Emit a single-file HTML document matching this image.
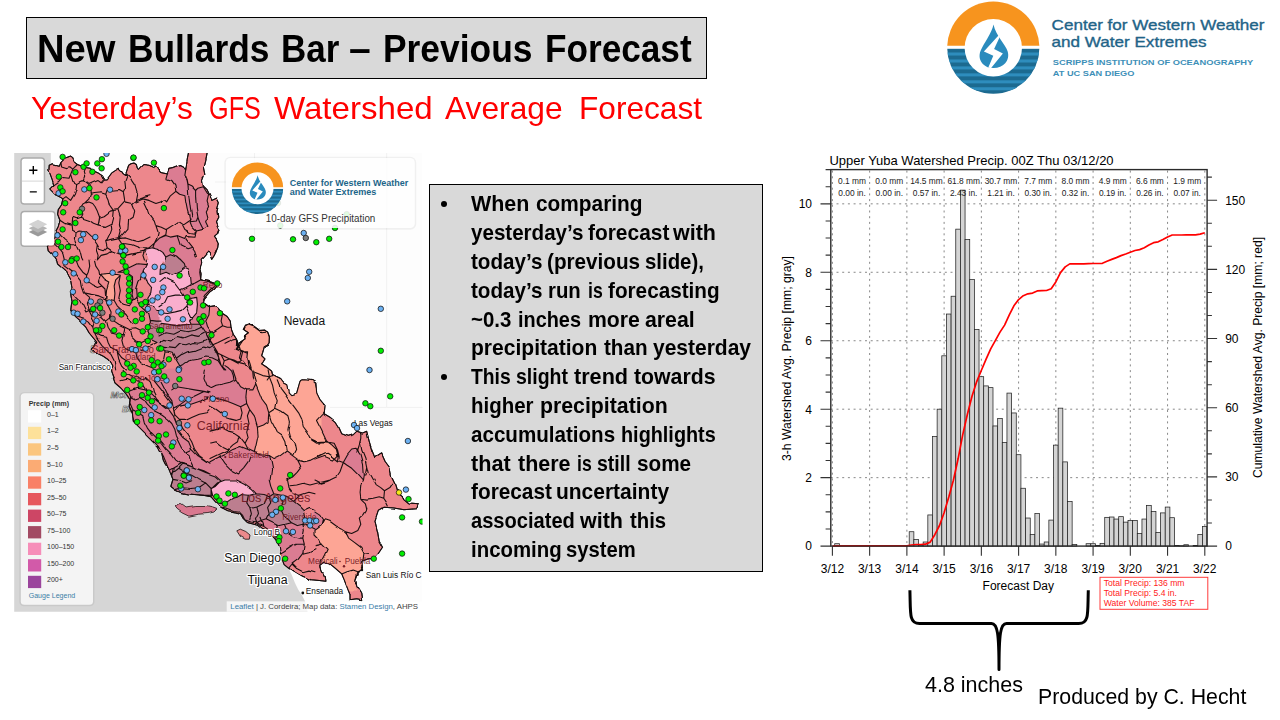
<!DOCTYPE html>
<html lang="en">
<head>
<meta charset="utf-8">
<title>New Bullards Bar – Previous Forecast</title>
<style>
html,body{margin:0;padding:0;background:#fff;}
body{width:1280px;height:720px;position:relative;overflow:hidden;font-family:"Liberation Sans", Arial, sans-serif;}
.t{position:absolute;white-space:nowrap;line-height:1;transform-origin:0 0;margin:0;padding:0;}
.w span{position:absolute;top:0;transform-origin:0 0;}
.box{position:absolute;background:#d9d9d9;border:1.3px solid #000;box-sizing:content-box;}
.bul{position:absolute;width:6px;height:6px;border-radius:50%;background:#000;}
svg{position:absolute;left:0;top:0;overflow:visible;}
svg text{font-family:"Liberation Sans", Arial, sans-serif;}
</style>
</head>
<body>
<svg width="0" height="0" style="position:absolute">
<defs>
<clipPath id="cwTop"><rect x="946.1999999999999" y="0.6000000000000014" width="94.2" height="45.20"/></clipPath>
<clipPath id="cwBot"><rect x="946.1999999999999" y="48.6" width="94.2" height="46.20"/></clipPath>
<clipPath id="cwDisc"><circle cx="993.3" cy="47.7" r="46.1"/></clipPath>
<g id="cw3e">
<circle cx="993.3" cy="47.7" r="46.1" fill="#f7941e" clip-path="url(#cwTop)"/>
<g clip-path="url(#cwBot)"><g clip-path="url(#cwDisc)"><rect x="946.1999999999999" y="48.6" width="94.2" height="48.1" fill="#1c6a90"/><rect x="946.1999999999999" y="52.50" width="94.2" height="3.05" fill="#2e8dbd"/><rect x="946.1999999999999" y="59.45" width="94.2" height="3.05" fill="#2e8dbd"/><rect x="946.1999999999999" y="66.40" width="94.2" height="3.05" fill="#2e8dbd"/><rect x="946.1999999999999" y="73.35" width="94.2" height="3.05" fill="#2e8dbd"/><rect x="946.1999999999999" y="80.30" width="94.2" height="3.05" fill="#2e8dbd"/><rect x="946.1999999999999" y="87.25" width="94.2" height="3.05" fill="#2e8dbd"/><rect x="946.1999999999999" y="94.20" width="94.2" height="3.05" fill="#2e8dbd"/></g></g>
<circle cx="993.3" cy="47.7" r="28.7" fill="#fff"/>
<path d="M993.5 24.6 C992.6 29 990.5 33 987.5 38.2 C985 42.5 982.3 46.6 980.6 50.8 C978.6 55.8 979.6 60.6 982.8 63.9 C985.6 66.8 989.2 68 993.6 68 C998.4 68 1002.4 66.4 1005.2 63.2 C1008 60 1009 55.6 1007.6 51.2 C1006.4 47.6 1003.6 43.8 1000.6 39.4 C997.6 35 994.8 30.4 993.5 24.6 Z" fill="#2a8bbd"/>
<path d="M998.7 35.2 L983.9 51.6 L993.3 55.7 L988.3 67.4 L990.9 68.2 L1002.9 53.4 L994.1 49.1 L999.5 37.4 Z" fill="#fff"/>
</g>
</defs></svg>
<div class="box" style="left:25.65px;top:17.35px;width:678.9px;height:60px;"></div>
<div class="t w h1" style="left:0;top:30.33px;font-size:38px;color:#000;font-weight:bold;"><span style="left:37.20px;transform:scaleX(1.0038)">New</span> <span style="left:128.00px;transform:scaleX(0.9300)">Bullards</span> <span style="left:281.10px;transform:scaleX(0.9203)">Bar</span> <span style="left:348.70px;transform:scaleX(1.0271)">–</span> <span style="left:382.80px;transform:scaleX(0.9308)">Previous</span> <span style="left:544.70px;transform:scaleX(0.9256)">Forecast</span></div>
<div class="t w h2" style="left:0;top:93.42px;font-size:31.4px;color:#ff0000;"><span style="left:30.90px;transform:scaleX(1.0080)">Yesterday’s</span> <span style="left:208.70px;transform:scaleX(0.8039)">GFS</span> <span style="left:273.80px;transform:scaleX(1.0534)">Watershed</span> <span style="left:445.30px;transform:scaleX(1.0103)">Average</span> <span style="left:578.80px;transform:scaleX(1.0070)">Forecast</span></div>
<div class="box" style="left:429.35px;top:184.35px;width:331.5px;height:385.5px;"></div>
<div class="t w li" style="left:0;top:193.45px;font-size:21.2px;color:#000;font-weight:bold;"><span style="left:470.80px;transform:scaleX(1.0120)">When</span> <span style="left:535.60px;transform:scaleX(0.9836)">comparing</span></div>
<div class="t w li" style="left:0;top:222.25px;font-size:21.2px;color:#000;font-weight:bold;"><span style="left:470.80px;transform:scaleX(0.9707)">yesterday’s</span> <span style="left:587.50px;transform:scaleX(0.9868)">forecast</span> <span style="left:673.16px;transform:scaleX(1.0126)">with</span></div>
<div class="t w li" style="left:0;top:251.05px;font-size:21.2px;color:#000;font-weight:bold;"><span style="left:470.80px;transform:scaleX(0.9723)">today’s</span> <span style="left:547.20px;transform:scaleX(0.9757)">(previous</span> <span style="left:645.30px;transform:scaleX(0.9614)">slide),</span></div>
<div class="t w li" style="left:0;top:279.85px;font-size:21.2px;color:#000;font-weight:bold;"><span style="left:470.80px;transform:scaleX(0.9723)">today’s</span> <span style="left:547.80px;transform:scaleX(0.9604)">run</span> <span style="left:587.50px;transform:scaleX(0.8314)">is</span> <span style="left:608.30px;transform:scaleX(0.9775)">forecasting</span></div>
<div class="t w li" style="left:0;top:308.65px;font-size:21.2px;color:#000;font-weight:bold;"><span style="left:470.80px;transform:scaleX(0.9630)">~0.3</span> <span style="left:518.10px;transform:scaleX(0.9380)">inches</span> <span style="left:587.50px;transform:scaleX(1.0013)">more</span> <span style="left:645.30px;transform:scaleX(1.0040)">areal</span></div>
<div class="t w li" style="left:0;top:337.45px;font-size:21.2px;color:#000;font-weight:bold;"><span style="left:470.80px;transform:scaleX(0.9935)">precipitation</span> <span style="left:603.60px;transform:scaleX(0.9742)">than</span> <span style="left:653.30px;transform:scaleX(0.9909)">yesterday</span></div>
<div class="t w li" style="left:0;top:366.25px;font-size:21.2px;color:#000;font-weight:bold;"><span style="left:470.90px;transform:scaleX(0.9108)">This</span> <span style="left:516.10px;transform:scaleX(0.9197)">slight</span> <span style="left:574.20px;transform:scaleX(1.0208)">trend</span> <span style="left:634.40px;transform:scaleX(1.0039)">towards</span></div>
<div class="t w li" style="left:0;top:395.05px;font-size:21.2px;color:#000;font-weight:bold;"><span style="left:470.90px;transform:scaleX(0.9662)">higher</span> <span style="left:539.60px;transform:scaleX(1.0045)">precipitation</span></div>
<div class="t w li" style="left:0;top:423.85px;font-size:21.2px;color:#000;font-weight:bold;"><span style="left:470.90px;transform:scaleX(0.9714)">accumulations</span> <span style="left:620.60px;transform:scaleX(0.9361)">highlights</span></div>
<div class="t w li" style="left:0;top:452.65px;font-size:21.2px;color:#000;font-weight:bold;"><span style="left:470.90px;transform:scaleX(1.0216)">that</span> <span style="left:517.60px;transform:scaleX(1.0148)">there</span> <span style="left:576.90px;transform:scaleX(0.8314)">is</span> <span style="left:596.80px;transform:scaleX(0.9199)">still</span> <span style="left:637.40px;transform:scaleX(0.9770)">some</span></div>
<div class="t w li" style="left:0;top:481.45px;font-size:21.2px;color:#000;font-weight:bold;"><span style="left:470.90px;transform:scaleX(0.9819)">forecast</span> <span style="left:556.40px;transform:scaleX(0.9898)">uncertainty</span></div>
<div class="t w li" style="left:0;top:510.25px;font-size:21.2px;color:#000;font-weight:bold;"><span style="left:470.90px;transform:scaleX(0.9481)">associated</span> <span style="left:580.06px;transform:scaleX(1.0150)">with</span> <span style="left:630.40px;transform:scaleX(0.9577)">this</span></div>
<div class="t w li" style="left:0;top:539.05px;font-size:21.2px;color:#000;font-weight:bold;"><span style="left:470.90px;transform:scaleX(0.9627)">incoming</span> <span style="left:566.20px;transform:scaleX(0.9538)">system</span></div>
<div class="bul" style="left:441px;top:200.7px;"></div>
<div class="bul" style="left:441px;top:373.5px;"></div>
<div class="t cap" style="left:924.70px;top:674.32px;font-size:21.6px;color:#000;transform:scaleX(0.9953);">4.8 inches</div>
<div class="t cap" style="left:1037.90px;top:685.92px;font-size:21.6px;color:#000;transform:scaleX(0.9862);">Produced by C. Hecht</div>
<svg id="logo" width="1280" height="720" viewBox="0 0 1280 720">
<use href="#cw3e"/>
<g fill="#1f6488" stroke="#1f6488" stroke-width="0.35" font-size="15">
<text x="1051.6" y="29.8" textLength="212.8" lengthAdjust="spacingAndGlyphs">Center for Western Weather</text>
<text x="1051.6" y="46.6" textLength="155" lengthAdjust="spacingAndGlyphs">and Water Extremes</text>
</g>
<g fill="#3d8fb8" font-size="8" font-weight="bold">
<text x="1052.8" y="64.6" textLength="200.5" lengthAdjust="spacingAndGlyphs">SCRIPPS INSTITUTION OF OCEANOGRAPHY</text>
<text x="1052.8" y="75.9" textLength="81.6" lengthAdjust="spacingAndGlyphs">AT UC SAN DIEGO</text>
</g>
</svg>
<svg id="map" width="1280" height="720" viewBox="0 0 1280 720">
<defs><clipPath id="mapclip"><rect x="14.2" y="153.0" width="408.3" height="458.7"/></clipPath></defs>
<g clip-path="url(#mapclip)">
<rect x="14.2" y="153.0" width="408.3" height="458.7" fill="#fdfdfd"/>
<path d="M14 153 50.8 153 50.8 163 48.9 169.9 49.9 174.4 52.2 180.6 53.8 185.9 50.7 189 54.5 192.8 57.6 195.8 60.6 197.4 62.9 198.9 61.4 205 58.3 209.6 57.6 214.2 59.9 220.3 58.3 226.4 56 231 54.5 235.6 52.2 241.7 48.4 246.3 49.2 250.8 53.8 255.4 56.8 260 57.5 263 65 269.7 67.5 275.5 70.8 281.3 72 288 70.8 294.7 72 301.3 70.8 310.5 74.2 316.3 80 321.3 85.8 327.2 89.2 333 93.3 338 96.7 342.2 95 346.3 91.7 349.7 96.7 353 103.3 356.3 108.3 359.7 111.7 365.5 111.7 371.3 114.2 378 113.3 378 115 383 120.8 388 126.7 394.7 130 399.7 129.2 406.3 132.5 413.8 133.3 421.3 138.3 426.3 143.3 431.3 148.3 436.3 153.3 441.3 158.3 446.3 161.7 453 163.2 460 165.3 464.2 168.8 469 170.8 473.9 172.9 479.4 170.8 486.4 175 489.9 180.6 492.6 187.5 494 195.8 494.7 204.2 495.4 211.1 496.8 215.3 501.7 220.8 507.2 227.8 510.7 234.7 512.1 240.3 513.5 243.1 518.3 247.2 522.5 252.8 523.9 257.6 525.3 261.1 528.1 266.7 530.8 272.2 535.7 276.4 540.6 279.2 546.1 280.6 554.4 281.7 558 284.2 564.7 288.3 568 291.7 574.7 295 583 298.3 589.7 301.7 594.7 305 601.3 308.3 614.7 14 615Z" fill="#d6d6d6"/>
<path d="M254.5 153V330M386.7 153V407.4M386.7 407.4H423M215 182H254.5M254.5 182 H386.7M330 407.4H386.7" stroke="#f1f1f1" stroke-width="1" fill="none"/>
<g font-size="9.5" font-style="italic" font-weight="bold" fill="#fff" stroke="#555" stroke-width="0.6"><text x="110.5" y="397.5">Monterey</text><text x="122" y="411.5">Bay</text><text x="90" y="352.5" font-size="11">San Francisco</text></g>
<filter id="wig" filterUnits="userSpaceOnUse" x="10" y="150" width="416" height="466"><feTurbulence type="fractalNoise" baseFrequency="0.07" numOctaves="1" seed="7" result="n"/><feDisplacementMap in="SourceGraphic" in2="n" scale="4" xChannelSelector="R" yChannelSelector="G"/></filter>
<g filter="url(#wig)">
<path d="M49.2 165.3 52.2 163.8 58.3 165.3 59.9 161.5 62.9 158.4 66.7 157.6 70.6 156.1 72.8 157.6 74.4 162.2 77.4 164.5 81.3 166 85.8 167.6 90.4 168.3 92.7 170.6 98.1 172.9 102.6 176 104.2 179 107.2 179 109.5 176 111.8 172.9 116.4 169.9 119.4 168.3 121.7 170.6 123.3 172.9 125.6 174.4 127.1 169.9 128.6 165.3 130.9 163.8 134 163 136.3 164.5 137.8 169.9 142.9 164.5 149 165.3 154.4 167.6 156.7 166 160.5 171.4 167.4 172.9 168.9 168.3 172.7 167.6 180.4 164.5 183.4 166 185.7 169.9 187.2 159.2 188.4 153.1 188.4 146.9 206.3 146.9 206.3 153.1 204.8 160.7 203.3 166.8 204.8 174.4 202.5 180.6 203.3 185.9 207.1 189.7 210.1 195.8 211.7 200.4 217 198.1 219.3 202.7 217 211.1 217.8 217.2 215.5 221.8 217.8 227.9 218.9 229.4 217.2 233.9 214.4 236.1 216.7 239.4 218.3 242.8 217.8 247.2 215.6 252.8 213.9 256.1 211.7 259.4 210 255 208.3 251.7 206.1 253.9 203.3 257.2 201.1 259.4 201.7 263.9 200 269.4 201.1 273.9 200.6 279.4 203.3 280.6 207.8 281.1 213.3 282.8 217.8 285 214.4 289.4 211.1 291.7 207.2 296.1 204.4 299.4 203.3 302.8 205.8 304.3 210.4 307.4 215.8 306.6 218.8 308.9 222.6 313.5 227.2 316.5 230.3 321.1 231 327.2 233.3 333.3 236.4 337.9 238.7 344 238.2 345.6 236.1 338.3 237 339.1 236.4 344.4 237.4 345 239.4 342.8 245 338.9 244.4 335.6 248.3 332.8 243.3 329.4 245.6 325 249.4 323.9 253.9 326.1 258.3 329.4 263.9 329.1 267.8 332.2 269.4 336.7 269.2 342.8 267.2 345.6 264.4 346.7 262.8 352.2 261.7 355.6 265 358.9 263.3 361.7 261.7 363.9 266.1 366.7 271.7 371.1 272.8 375.6 277.2 377.8 280.6 379.4 283.3 383 286.7 384.7 288.3 392.2 290.8 394.7 296.7 393 300 381.3 303.3 379.7 311.7 380.5 315.8 383 316.7 393 320 399.7 325 405.5 324.2 413.8 330 417.2 335 421.3 339.2 428 341.7 433.8 348.3 436.3 353.3 434.7 356.7 431.3 362.5 433 366.7 431.3 369.2 441.3 371.7 449.7 375 458 381.7 453.8 385 461.3 390 468 391.7 476.3 395.8 484.7 398.3 493 400 494.7 405 498.8 410 503 418.3 503.8 416.7 508.8 405 509.7 395 508 385 507.2 378.3 511.3 375 521.3 377.5 531.3 379.2 541.3 382.5 547.2 377.5 554.7 373.3 558.8 368.3 558.8 361.7 561.3 362.5 568 358.3 573 355.8 579.7 356.7 586.3 360.8 593 361.7 599.7 356.7 598.8 350 599.7 350 594.7 346.7 586.3 344.2 579.7 341.7 573.8 335 568 330 563.8 325 563 320.8 566.3 321.7 571.3 324.2 576.3 325 581.3 318.3 580.5 310 579.7 301.7 576.3 293.3 571.3 288.3 568 284.2 564.7 281.7 558 280.6 554.4 279.2 546.1 276.4 540.6 272.2 535.7 266.7 530.8 261.1 528.1 257.6 525.3 252.8 523.9 247.2 522.5 243.1 518.3 240.3 513.5 234.7 512.1 227.8 510.7 220.8 507.2 215.3 501.7 211.1 496.8 204.2 495.4 195.8 494.7 187.5 494 180.6 492.6 175 489.9 170.8 486.4 172.9 479.4 170.8 473.9 168.8 469 165.3 464.2 163.2 460 161.7 453 158.3 446.3 153.3 441.3 148.3 436.3 143.3 431.3 138.3 426.3 133.3 421.3 132.5 413.8 129.2 406.3 130 399.7 126.7 394.7 120.8 388 115 383 113.3 378 114.2 378 111.7 371.3 111.7 365.5 108.3 359.7 103.3 356.3 96.7 353 91.7 349.7 95 346.3 96.7 342.2 93.3 338 89.2 333 85.8 327.2 80 321.3 74.2 316.3 70.8 310.5 72 301.3 70.8 294.7 72 288 70.8 281.3 67.5 275.5 65 269.7 57.5 263 56.8 260 53.8 255.4 49.2 250.8 48.4 246.3 52.2 241.7 54.5 235.6 56 231 58.3 226.4 59.9 220.3 57.6 214.2 58.3 209.6 61.4 205 62.9 198.9 60.6 197.4 57.6 195.8 54.5 192.8 50.7 189 53.8 185.9 52.2 180.6 49.9 174.4 48.9 169.9Z" fill="#ed878c" stroke="#1a1010" stroke-width="0.9" stroke-linejoin="round"/>
<path d="M175 506.5 181.2 504.4 186.1 507.9 195.8 506.5 205.6 506.5 212.5 507.9 216.7 509.3 213.9 512.1 206.9 513.5 198.6 514.2 188.9 516.2 181.9 512.8 177.1 509.3Z" fill="#d9788f" stroke="#1a1010" stroke-width="0.8" stroke-linejoin="round"/>
<path d="M236.8 530.8 240.3 529.2 245.8 531.5 250 535 249.3 539.2 245.1 539.2 240.3 536.4Z" fill="#ec8a8c" stroke="#1a1010" stroke-width="0.8" stroke-linejoin="round"/>
<clipPath id="silclip"><path d="M49.2 165.3 52.2 163.8 58.3 165.3 59.9 161.5 62.9 158.4 66.7 157.6 70.6 156.1 72.8 157.6 74.4 162.2 77.4 164.5 81.3 166 85.8 167.6 90.4 168.3 92.7 170.6 98.1 172.9 102.6 176 104.2 179 107.2 179 109.5 176 111.8 172.9 116.4 169.9 119.4 168.3 121.7 170.6 123.3 172.9 125.6 174.4 127.1 169.9 128.6 165.3 130.9 163.8 134 163 136.3 164.5 137.8 169.9 142.9 164.5 149 165.3 154.4 167.6 156.7 166 160.5 171.4 167.4 172.9 168.9 168.3 172.7 167.6 180.4 164.5 183.4 166 185.7 169.9 187.2 159.2 188.4 153.1 188.4 146.9 206.3 146.9 206.3 153.1 204.8 160.7 203.3 166.8 204.8 174.4 202.5 180.6 203.3 185.9 207.1 189.7 210.1 195.8 211.7 200.4 217 198.1 219.3 202.7 217 211.1 217.8 217.2 215.5 221.8 217.8 227.9 218.9 229.4 217.2 233.9 214.4 236.1 216.7 239.4 218.3 242.8 217.8 247.2 215.6 252.8 213.9 256.1 211.7 259.4 210 255 208.3 251.7 206.1 253.9 203.3 257.2 201.1 259.4 201.7 263.9 200 269.4 201.1 273.9 200.6 279.4 203.3 280.6 207.8 281.1 213.3 282.8 217.8 285 214.4 289.4 211.1 291.7 207.2 296.1 204.4 299.4 203.3 302.8 205.8 304.3 210.4 307.4 215.8 306.6 218.8 308.9 222.6 313.5 227.2 316.5 230.3 321.1 231 327.2 233.3 333.3 236.4 337.9 238.7 344 238.2 345.6 236.1 338.3 237 339.1 236.4 344.4 237.4 345 239.4 342.8 245 338.9 244.4 335.6 248.3 332.8 243.3 329.4 245.6 325 249.4 323.9 253.9 326.1 258.3 329.4 263.9 329.1 267.8 332.2 269.4 336.7 269.2 342.8 267.2 345.6 264.4 346.7 262.8 352.2 261.7 355.6 265 358.9 263.3 361.7 261.7 363.9 266.1 366.7 271.7 371.1 272.8 375.6 277.2 377.8 280.6 379.4 283.3 383 286.7 384.7 288.3 392.2 290.8 394.7 296.7 393 300 381.3 303.3 379.7 311.7 380.5 315.8 383 316.7 393 320 399.7 325 405.5 324.2 413.8 330 417.2 335 421.3 339.2 428 341.7 433.8 348.3 436.3 353.3 434.7 356.7 431.3 362.5 433 366.7 431.3 369.2 441.3 371.7 449.7 375 458 381.7 453.8 385 461.3 390 468 391.7 476.3 395.8 484.7 398.3 493 400 494.7 405 498.8 410 503 418.3 503.8 416.7 508.8 405 509.7 395 508 385 507.2 378.3 511.3 375 521.3 377.5 531.3 379.2 541.3 382.5 547.2 377.5 554.7 373.3 558.8 368.3 558.8 361.7 561.3 362.5 568 358.3 573 355.8 579.7 356.7 586.3 360.8 593 361.7 599.7 356.7 598.8 350 599.7 350 594.7 346.7 586.3 344.2 579.7 341.7 573.8 335 568 330 563.8 325 563 320.8 566.3 321.7 571.3 324.2 576.3 325 581.3 318.3 580.5 310 579.7 301.7 576.3 293.3 571.3 288.3 568 284.2 564.7 281.7 558 280.6 554.4 279.2 546.1 276.4 540.6 272.2 535.7 266.7 530.8 261.1 528.1 257.6 525.3 252.8 523.9 247.2 522.5 243.1 518.3 240.3 513.5 234.7 512.1 227.8 510.7 220.8 507.2 215.3 501.7 211.1 496.8 204.2 495.4 195.8 494.7 187.5 494 180.6 492.6 175 489.9 170.8 486.4 172.9 479.4 170.8 473.9 168.8 469 165.3 464.2 163.2 460 161.7 453 158.3 446.3 153.3 441.3 148.3 436.3 143.3 431.3 138.3 426.3 133.3 421.3 132.5 413.8 129.2 406.3 130 399.7 126.7 394.7 120.8 388 115 383 113.3 378 114.2 378 111.7 371.3 111.7 365.5 108.3 359.7 103.3 356.3 96.7 353 91.7 349.7 95 346.3 96.7 342.2 93.3 338 89.2 333 85.8 327.2 80 321.3 74.2 316.3 70.8 310.5 72 301.3 70.8 294.7 72 288 70.8 281.3 67.5 275.5 65 269.7 57.5 263 56.8 260 53.8 255.4 49.2 250.8 48.4 246.3 52.2 241.7 54.5 235.6 56 231 58.3 226.4 59.9 220.3 57.6 214.2 58.3 209.6 61.4 205 62.9 198.9 60.6 197.4 57.6 195.8 54.5 192.8 50.7 189 53.8 185.9 52.2 180.6 49.9 174.4 48.9 169.9Z"/></clipPath>
<g clip-path="url(#silclip)">
<path d="M167.4 172.9 168.9 168.3 172.7 167.6 180.4 164.5 183.4 166 185.7 169.9 184.9 175.2 187.2 180.6 188 185.1 191.8 186.7 195.6 190.5 197.9 188.2 203.3 186.7 205.6 190.5 208.6 195.1 207.1 201.9 208.6 206.5 206.3 211.1 207.9 217.2 205.6 221.8 207.9 226.4 203.3 229.4 196.4 231 191.8 226.4 190 221.8 188.8 215.7 187.2 209.6 185.7 201.9 184.9 195.8 179.6 194.3 175.8 191.3 175 185.1 171.9 180.6 165.8 178.3Z" fill="#db7c92"/>
<path d="M154.4 243.2 159.7 237.9 165.8 235.6 170.4 237.1 178.1 235.6 185.7 238.6 188 241.7 191.8 246.3 194.9 250.8 196.4 257 199.4 261.5 165.8 261.5 165.8 257 162.8 252.4 158.2 249.3 152.8 247.8Z" fill="#db7c92"/>
<path d="M145.2 249.3 152.8 247.8 158.2 249.3 162.8 252.4 165.8 257 165.1 261.5 149 261.5 147.5 255.4Z" fill="#faaecd"/>
<path d="M165.8 257 170.4 254.7 176.5 257 179.6 261.5 165.1 261.5Z" fill="#bc7e8f"/>
<path d="M99.7 275.3 108.1 274.5 117.2 274.5 120.3 275.3 115.7 279.9 114.2 286 114.9 293.6 114.2 300.5 111.1 299.7 105.8 299 106.5 290.6 108.8 282.9 103.5 279.9Z" fill="#fda595"/>
<path d="M118 272.2 129.4 267.6 137.1 263.8 146.3 264.6 143.2 270.7 141.7 276.8 137.9 281.4 135.6 289 136.3 298.2 132.5 301.3 131 295.1 132.5 282.9 132.5 276.8 126.4 272.2Z" fill="#db7c92"/>
<path d="M146.3 260 161.5 260 161.5 310.4 157 310.4 153.9 305.8 149.3 304.3 147.8 298.2 150.8 293.6 151.6 287.5 147.8 282.9 145.5 276.8 143.2 270.7 146.3 264.6Z" fill="#faaecd"/>
<path d="M147.8 304.3 153.9 305.8 157 310.4 161.5 310.4 161.5 321.1 155.4 321.1 149.3 320.4 147.8 313.5 144.7 310.4Z" fill="#db7c92"/>
<path d="M149.3 320.4 161.5 321.1 161.5 345.6 157 342.5 150.8 339.4 147.8 331.8 149.3 325.7Z" fill="#bc7e8f"/>
<path d="M158.5 274.5 166.1 272.2 172.2 275.3 179.9 271.5 185.2 267.6 189 269.2 190.6 276.8 191.3 284.4 186 287.5 180.6 289.8 184.4 295.1 187.5 299.7 190.6 298.2 196.7 297.4 197.4 304.3 196.7 311.9 192.8 316.5 190.6 321.1 192.1 324.2 182.9 324.9 175.3 325.7 167.6 324.2 158.5 323.4Z" fill="#faaecd"/>
<path d="M160 274.5 160.3 269.2 162.1 263.4 166.1 258.5 179.9 258.5 184.4 264.6 185.2 267.6 179.9 271.5 172.2 275.3 166.1 272.2Z" fill="#bc7e8f"/>
<path d="M179.9 258.5 200.5 258.5 201.3 266.1 199.7 272.2 200.9 279.9 205.8 280.6 211.9 282.9 216.2 285.2 211.9 289 205.8 295.1 203.5 299.7 205.8 304.3 209.7 307.4 208.9 315 205.8 321.1 207.4 327.2 210.4 331.8 205.8 333.3 202.8 328.8 199.7 324.2 192.1 324.2 190.6 321.1 192.8 316.5 196.7 311.9 197.4 304.3 196.7 297.4 190.6 298.2 187.5 299.7 184.4 295.1 180.6 289.8 186 287.5 191.3 284.4 190.6 276.8 189 269.2 185.2 267.6 184.4 264.6Z" fill="#db7c92"/>
<path d="M158.5 325.7 167.6 324.2 175.3 325.7 182.9 324.9 192.1 324.2 199.7 324.2 205.8 333.3 213.5 345.6 218.8 357.8 218.1 360.8 211.9 357.8 205.8 357 198.2 359.3 189 360.8 182.9 365.4 179.9 367 175.3 359.3 172.2 353.2 166.1 351.7 163.1 347.1 158.5 345.6Z" fill="#bc7e8f"/>
<path d="M179.9 367 182.9 365.4 189 360.8 198.2 359.3 205.8 357 211.9 357.8 218.1 360.8 221.1 365.4 224.2 371.5 178.3 371.5Z" fill="#db7c92"/>
<path d="M244.8 327.2 248.6 324.9 254.7 327.2 260.8 331.8 267 331 271.5 333.3 271.5 371.5 251.7 371.5 250.1 363.9 247.9 357.8 248.6 351.7 242.5 351.7 237.2 347.9 239.4 345.6 242.5 341 245.6 336.4 243.3 333.3Z" fill="#fda595"/>
<path d="M128.3 391.4 136.7 388.3 144.3 389.9 150.4 394.4 156.5 400.6 162.6 405.1 168.8 409.7 173.3 415.8 176.4 423.5 177.9 431.1 182.5 437.2 188.6 441.8 191.7 449.4 197.8 455.6 207 461.7 211.5 464.7 211.5 481.5 173.3 481.5 171.8 475.4 167.2 471.6 168 467.8 165.7 461.7 163.4 456.3 160.4 451 155.8 445.6 151.2 441 146.6 435.7 142 431.1 137.4 426.5 134.4 421.9 132.1 415.8 132.8 409.7 129.8 402.8 130.6 396.7Z" fill="#db7c92"/>
<path d="M152.4 368.5 154.2 380.8 161.4 389.9 172.3 404.4 174.1 411.6 179.4 406.1 190.3 404.4 201.1 400.7 208.3 397 211.5 392.9 211.5 368.5Z" fill="#db7c92"/>
<path d="M173.3 467.8 181 463.2 187.1 464.7 194.7 467.8 203.9 470.8 211.5 473.9 211.5 481.5 173.3 481.5 171.8 475.4Z" fill="#bc7e8f"/>
<path d="M252.8 368.5 253.5 376.1 255.8 383.8 258.9 391.4 261.9 399 266.5 405.1 268.8 412.8 268.1 421.9 263.5 425 257.4 427.3 258.1 435.7 255.8 446.4 254.3 452.5 260.4 454.8 269.6 455.6 274.2 458.6 280.3 455.6 286.4 451 292.5 455.6 298.6 460.1 304.7 461.7 310.8 460.1 317 457.1 321.5 455.6 321.5 368.5Z" fill="#fda595"/>
<path d="M208.5 368.5 232.9 368.5 236 379.2 240.6 386.8 246.7 389.9 245.9 397.5 246.7 403.6 240.6 406.7 232.9 403.6 225.3 400.6 219.2 399 213.1 397.5 208.5 396Z" fill="#db7c92"/>
<path d="M208.5 461.7 216.1 458.6 225.3 454 232.9 449.4 240.6 446.4 248.2 449.4 254.3 452.5 260.4 454.8 269.6 455.6 271.1 461.7 272.6 469.3 271.1 481.5 208.5 481.5Z" fill="#db7c92"/>
<path d="M313.5 382.2 315 382.2 317.3 391.4 321.1 400.6 325.7 405.9 324.2 412 316.5 420.4 321.1 429.6 326.5 441 331.8 444.9 336.4 449.4 337.9 455.6 333.3 460.1 324.2 456.3 315 459.4 313.5 459.4Z" fill="#fda595"/>
<path d="M203.5 478.5 224.9 478.5 217.2 483.1 211.1 489.2 212.6 495.3 205 495.3 203.5 495.3Z" fill="#bc7e8f"/>
<path d="M227.9 501.4 232.5 498.3 237.8 496.8 241.7 494.5 249.3 495.3 255.4 493.8 263.1 494.5 269.2 496.8 273.8 493.8 281.4 495.3 287.5 496.8 293.6 501.4 299.7 506 304.3 510.6 305.8 518.2 302.8 524.3 296.7 525.8 290.6 522.8 284.4 524.3 278.3 525.8 272.2 522.8 266.1 519.7 261.5 521.3 256.9 523.5 255.4 522.8 250.8 522 244.7 519.7 242.4 515.1 238.6 511.3 232.5 510.6 226.4 508.3 220.3 506.7 215.7 502.9 219.5 502.9 223.3 503.7Z" fill="#bc7e8f"/>
<path d="M256.9 523.5 261.5 521.3 266.1 519.7 272.2 522.8 278.3 525.8 284.4 524.3 290.6 522.8 296.7 525.8 302.8 524.3 304.3 530.4 302.8 538.1 304.3 544.2 302.8 553.3 298.2 559.4 292.1 564 288.3 568.6 284.4 565.6 280.6 561 279.1 554.9 278.3 548.8 276.8 542.6 274.5 537.3 270.7 533.5 267.6 529.7 263.1 526.6 259.2 525.1Z" fill="#db7c92"/>
<path d="M235.6 478.5 244.7 484.6 250.8 489.2 255.4 493.8 263.1 494.5 269.2 496.8 273.8 493.8 270.7 486.1 269.2 478.5Z" fill="#db7c92"/>
<path d="M211.1 489.2 217.2 483.1 224.9 480 235.6 480 244.7 484.6 250.8 489.2 255.4 493.8 249.3 495.3 241.7 494.5 237.8 496.8 232.5 498.3 227.9 501.4 223.3 503.7 219.5 502.9 215.7 499.1 212.6 495.3Z" fill="#faaecd"/>
<path d="M315 530.4 321.1 525.8 324.2 519.7 328.8 521.3 334.9 525.8 341 528.9 345.6 531.9 348.6 538.1 354.7 542.6 360.8 547.2 363.9 553.3 363.1 559.4 360.8 565.6 362.4 570.1 357.8 571.7 356.3 577.8 355.5 583.9 356.3 591.5 346.3 591.5 344.8 583.9 342.5 577.8 341.7 574 336.4 570.1 330.3 567.1 324.2 565.6 321.1 568.6 321.1 562.5 324.2 556.4 327.2 550.3 321.1 544.2 318.1 538.1 315 535Z" fill="#fda595"/>
<path d="M313.5 512.1 315 512.1 319.6 515.1 322.6 519.7 321.1 525.8 315 530.4 313.5 530.4Z" fill="#db7c92"/>
<path d="M236.1 348.3 239.4 342.8 245 338.9 244.4 335.6 248.3 332.8 243.3 329.4 245.6 325 249.4 323.9 253.9 326.1 258.3 329.4 263.9 329.1 267.8 332.2 269.4 336.7 269.2 342.8 267.2 345.6 264.4 346.7 262.8 352.2 261.7 355.6 265 358.9 263.3 361.7 261.7 363.9 266.1 366.7 271.7 371.1 272.8 375.6 277.2 377.8 280.6 379.4 285 381.1 252.8 381.1 252.2 376.7 251.7 371.1 248.9 365.6 247.8 358.9 248.3 353.3 242.8 351.1Z" fill="#fda595"/>
<path d="M223.9 365.6 225 365.6 228.3 367.8 231.7 371.1 233.3 375.6 233.9 381.1 223.9 381.1Z" fill="#db7c92"/>
<path d="M170.8 473.9 177.8 468.3 181.9 464.2 190.3 466.2 195.8 468.3 205.6 472.5 215.3 476 220.8 480.8 215.3 486.4 211.1 488.5 211.1 496.8 204.2 495.4 195.8 494.7 187.5 494 180.6 492.6 175 489.9 170.8 486.4 172.9 479.4Z" fill="#bc7e8f"/>
<path d="M343.3 462.5 347.5 455 351.7 450 355.8 449.2 360 454.2 362.5 463.3 363.3 475 362.5 480 356.7 473.3 351.7 468.3 346.7 465Z" fill="#db7c92"/>
<path d="M167.4 172.9 168.9 168.3 172.7 167.6 180.4 164.5 183.4 166 185.7 169.9 184.9 175.2 187.2 180.6 188 185.1 191.8 186.7 195.6 190.5 197.9 188.2 203.3 186.7 205.6 190.5 208.6 195.1 207.1 201.9 208.6 206.5 206.3 211.1 207.9 217.2 205.6 221.8 207.9 226.4 203.3 229.4 196.4 231 191.8 226.4 190 221.8 188.8 215.7 187.2 209.6 185.7 201.9 184.9 195.8 179.6 194.3 175.8 191.3 175 185.1 171.9 180.6 165.8 178.3 167.4 172.9M154.4 243.2 159.7 237.9 165.8 235.6 170.4 237.1 178.1 235.6 185.7 238.6 188 241.7 191.8 246.3 194.9 250.8 196.4 257M165.8 257 162.8 252.4 158.2 249.3 152.8 247.8 154.4 243.2M145.2 249.3 152.8 247.8 158.2 249.3 162.8 252.4 165.8 257M147.5 255.4 145.2 249.3M165.8 257 170.4 254.7 176.5 257M136 201.9 142.9 198.9 149 200.4 155.9 203.5 160.5 201.9 164.3 199.7 166.6 201.9 170.4 195.8 175.8 191.3M144.4 201.2 148.3 209.6 149.8 214.2 154.4 220.3 155.9 225.6 161.3 227.2 165.8 229.4 167.4 228.7 173.5 224.9 178.1 221.8 182.6 224.9 187.2 221.8 189.5 220.3M166.6 229.4 165.8 234.8 159.7 237.9M182.6 224.9 184.9 229.4 190.3 232.5 194.9 233.3 196.4 231M185.7 238.6 187.2 235.6 194.9 236.3 196.4 231M155.9 225.6 158.2 232.5 156.7 238.6 154.4 243.2 149 247.8 145.2 249.3 142.9 255.4 144.4 260M188 185.1 188.8 195.8 190.3 208.1 191.8 217.2 190 221.8 196.4 221 197.9 217.2 196.4 208.1 195.6 195.8 195.6 190.5M197.9 217.2 199.4 221.8 203.3 229.4M152.8 247.8 158.2 249.3 162.8 252.4 165.8 257 165.1 260M165.8 257 170.4 254.7 176.5 257 179.6 260M191.8 246.3 187.2 247.8 181.1 244.7 178.1 235.6M59.9 161.5 60.6 166 65.2 167.6 69.8 166.8 72.8 169.1 77.4 164.5M72.8 169.1 70.6 174.4 69 178.3 62.9 177.5 58.3 182.8 53.8 185.9M70.6 174.4 72.8 181.3 76.7 183.6 80.5 181.3 84.3 180.6 85.8 176.7 84.3 171.4 85.8 167.6M76.7 183.6 75.9 189.7 74.4 194.3 70.6 200.4 66 196.6 62.9 198.9M84.3 180.6 88.9 184.4 92.7 182.8 98.1 180.6 101.1 182.8 104.2 179M88.9 184.4 90.4 194.3 88.9 198.9 84.3 203.5 81.3 208.1 82.8 214.2 81.3 217.2 76.7 218.8 72.8 217.2 72.1 224.9 72.8 231 75.1 232.5M90.4 194.3 93.5 193.5 101.1 192.8 105.7 194.3 108 198.9 109.5 205 113.3 210.4 110.3 211.1 104.2 215.7 99.6 217.2 97.3 211.1 95 206.5 92.7 203.5 88.9 201.9 84.3 203.5M105.7 194.3 107.2 189.7 111.8 191.3 119.4 190.5 123.3 192.8 125.6 188.2 124.8 180.6 127.1 174.4 125.6 174.4M123.3 192.8 124.8 201.9 131.7 203.5 135.5 200.4 137 192.8 134.7 185.1 131.7 180.6 130.1 177.5 127.1 174.4M135.5 200.4 143.9 197.4 150 195.8M113.3 210.4 117.9 209.6 124.8 201.9M131.7 203.5 134.7 211.1 133.2 217.2 128.6 220.3 127.9 229.4 122.5 235.6 119.4 238.6M113.3 210.4 112.6 217.2 111 223.3 111.8 229.4 109.5 235.6 107.2 240.1 105.7 241.7M99.6 217.2 98.8 221.8 98.1 224.9 93.5 223.3 88.9 220.3 84.3 218.8 81.3 217.2M98.1 224.9 104.2 226.4 111 223.3M117.9 209.6 120.2 217.2 119.4 224.9 121 232.5 119.4 238.6M75.1 232.5 78.2 231 84.3 231.7 90.4 237.1 94.2 240.1 97.3 244.7 96.5 250.8 98.1 255.4 97.3 260M105.7 241.7 107.2 247.8 104.2 250.8 99.6 249.3 97.3 244.7M105.7 241.7 111.8 240.1 119.4 238.6 125.6 237.9 131.7 240.1 137.8 241.7 143.9 240.1 150 237.1M119.4 238.6 122.5 243.2 131.7 244.7 139.3 247.8 147 247.8M75.1 232.5 74.4 238.6 76.7 244.7 79.7 250.8 81.3 257 82.8 260M59.9 220.3 64.4 223.3 70.6 224.9 72.1 224.9M56 231 59.9 235.6 64.4 240.1 70.6 244.7 76.7 244.7M52.2 241.7 58.3 247.8 62.9 253.9 64.4 260M107.2 247.8 111.8 250.8 119.4 253.9 125.6 255.4 131.7 253.9 139.3 252.4 145.4 250.8M97.3 260 101.1 255.4 107.2 253.9 111.8 250.8M99.7 275.3 108.1 274.5 117.2 274.5 120.3 275.3 115.7 279.9 114.2 286 114.9 293.6 114.2 300.5 111.1 299.7 105.8 299 106.5 290.6 108.8 282.9 103.5 279.9 99.7 275.3M118 272.2 129.4 267.6 137.1 263.8 146.3 264.6 143.2 270.7 141.7 276.8 137.9 281.4 135.6 289 136.3 298.2 132.5 301.3 131 295.1 132.5 282.9 132.5 276.8 126.4 272.2 118 272.2M157 310.4 153.9 305.8 149.3 304.3 147.8 298.2 150.8 293.6 151.6 287.5 147.8 282.9 145.5 276.8 143.2 270.7 146.3 264.6 146.3 260M147.8 304.3 153.9 305.8 157 310.4M155.4 321.1 149.3 320.4 147.8 313.5 144.7 310.4 147.8 304.3M157 342.5 150.8 339.4 147.8 331.8 149.3 325.7 149.3 320.4M63.8 264.6 69.9 269.2 76 273.8 81.3 280.6 82.1 286 84.4 292.8 89.7 297.4 87.4 304.3 89 310.4 92 316.5 94.3 321.1 92.8 327.2 94.3 333.3 100.4 336.4 106.5 337.2M76 260 78.3 266.1 82.8 272.2 86.7 275.3 85.9 280.6 91.3 284.4 97.4 287.5 101.9 286 105 289 105.8 299M89 260 89.7 266.1 88.2 272.2 86.7 275.3M94.3 260 95.8 266.1 98.9 270.7 99.7 275.3M99.7 275.3 97.4 281.4 101.9 286M84.4 292.8 91.3 294.4 98.9 295.9 105.8 299M114.2 300.5 117.2 305.8 121.8 310.4 126.4 315 129.4 319.6 132.5 324.2M105.8 299 108.1 305.8 111.1 311.9 110.4 318.1 114.2 321.1 118.8 324.2 124.9 327.2 129.4 329.5 135.6 328.8 141.7 331.8M89 310.4 95.8 313.5 101.9 316.5 106.5 321.1 110.4 318.1M106.5 321.1 108.1 327.2 111.1 331.8 117.2 333.3 123.3 334.9 124.9 327.2M94.3 333.3 97.4 339.4 101.9 345.6 106.5 350.1 111.1 354.7 114.2 360.8 115.7 370M106.5 337.2 108.1 342.5 111.1 348.6 117.2 351.7 121.8 357.8 126.4 360.8M123.3 334.9 121.8 341 123.3 347.1 129.4 350.1 135.6 351.7 141.7 350.1M129.4 329.5 131 336.4 135.6 341 141.7 342.5 147.8 339.4M120.3 275.3 118.8 282.9 120.3 290.6 118.8 298.2 123.3 304.3 129.4 305.8 132.5 301.3M135.6 298.2 140.1 305.8 144.7 310.4 147.8 313.5M117.2 351.7 118.8 359.3 121.8 365.4 126.4 370M135.6 351.7 137.1 357.8 141.7 363.9 147.8 367 155.4 370M141.7 331.8 147.8 331.8M141.7 350.1 147.8 347.1 157 342.5M69.9 290.6 74.4 295.1 79 299.7 82.8 305.8 85.9 311.9 89 310.4M70.6 311.9 77.5 316.5 83.6 318.1 88.2 321.1 92.8 327.2M146.3 264.6 143.2 270.7 145.5 276.8 147.8 282.9 151.6 287.5 150.8 293.6 147.8 298.2 149.3 304.3 153.9 305.8 157 310.4 160 310.4M118 272.2 129.4 267.6 137.1 263.8 146.3 264.6M118 272.2 126.4 272.2 132.5 276.8 132.5 282.9 131 295.1 132.5 301.3 136.3 298.2 135.6 289 137.9 281.4 141.7 276.8 143.2 270.7M99.7 275.3 108.1 274.5 117.2 274.5 120.3 275.3 115.7 279.9 114.2 286 114.9 293.6 114.2 300.5 111.1 299.7 105.8 299 106.5 290.6 108.8 282.9 103.5 279.9 99.7 275.3M149.3 320.4 155.4 321.1 160 321.1M147.8 313.5 149.3 320.4 149.3 325.7 147.8 331.8 150.8 339.4 157 342.5M166.1 272.2 172.2 275.3 179.9 271.5 185.2 267.6 189 269.2 190.6 276.8 191.3 284.4 186 287.5 180.6 289.8 184.4 295.1 187.5 299.7 190.6 298.2 196.7 297.4 197.4 304.3 196.7 311.9 192.8 316.5 190.6 321.1 192.1 324.2 182.9 324.9 175.3 325.7 167.6 324.2M160 274.5 160.3 269.2 162.1 263.4M184.4 264.6 185.2 267.6 179.9 271.5 172.2 275.3 166.1 272.2 160 274.5M201.3 266.1 199.7 272.2 200.9 279.9 205.8 280.6 211.9 282.9 216.2 285.2 211.9 289 205.8 295.1 203.5 299.7 205.8 304.3 209.7 307.4 208.9 315 205.8 321.1 207.4 327.2 210.4 331.8 205.8 333.3 202.8 328.8 199.7 324.2 192.1 324.2 190.6 321.1 192.8 316.5 196.7 311.9 197.4 304.3 196.7 297.4 190.6 298.2 187.5 299.7 184.4 295.1 180.6 289.8 186 287.5 191.3 284.4 190.6 276.8 189 269.2 185.2 267.6 184.4 264.6M167.6 324.2 175.3 325.7 182.9 324.9 192.1 324.2 199.7 324.2 205.8 333.3 213.5 345.6 218.8 357.8 218.1 360.8 211.9 357.8 205.8 357 198.2 359.3 189 360.8 182.9 365.4 179.9 367 175.3 359.3 172.2 353.2 166.1 351.7 163.1 347.1M179.9 367 182.9 365.4 189 360.8 198.2 359.3 205.8 357 211.9 357.8 218.1 360.8 221.1 365.4M244.8 327.2 248.6 324.9 254.7 327.2 260.8 331.8 267 331M250.1 363.9 247.9 357.8 248.6 351.7 242.5 351.7 237.2 347.9 239.4 345.6 242.5 341 245.6 336.4 243.3 333.3 244.8 327.2M160 274.5 166.1 272.2 172.2 275.3 179.9 271.5 185.2 267.6 184.4 264.6 179.9 260M185.2 267.6 189 269.2 190.6 276.8 191.3 284.4 186 287.5 180.6 289.8 184.4 295.1 187.5 299.7M191.3 284.4 195.1 282.9 200.5 279.9M160 281.4 164.6 277.6 169.2 279.9 175.3 282.9 179.9 289 180.6 289.8M160 305.8 164.6 302.8 167.6 296.7 175.3 295.1 184.4 295.1M187.5 299.7 186 305.8 188.3 311.9 190.6 316.5 192.8 316.5M160 312.7 167.6 313.5 175.3 311.9 181.4 310.4 186 305.8M190.6 298.2 196.7 297.4 197.4 304.3 196.7 311.9 192.8 316.5 190.6 321.1 192.1 324.2M160 323.4 167.6 324.2 175.3 325.7 182.9 324.9 192.1 324.2 199.7 324.2 197.4 319.6 198.2 316.5M203.5 299.7 205.8 304.3 209.7 307.4 208.9 315 205.8 321.1 207.4 327.2 210.4 331.8 205.8 333.3M199.7 324.2 202.8 328.8 205.8 333.3 208.9 339.4 213.5 345.6 217.3 351.7 218.8 357.8 221.1 365.4 224.2 370M209.7 307.4 215.8 306.6M222.6 313.5 221.1 321.1 222.6 325.7 218.1 328.8 213.5 331.8 210.4 331.8M222.6 325.7 227.2 327.2 231 327.2M210.4 331.8 211.9 336.4 208.9 342.5 211.2 345.6 218.1 342.5 224.2 339.4 230.3 336.4 233.3 333.3M211.2 345.6 215 351.7 221.1 354.7 227.2 357.8 233.3 360.8 239.4 363.9 245.6 365.4 251.7 370M236.4 337.9 237.9 342.5 241 351.7 239.4 357.8 245.6 365.4M221.1 354.7 224.2 360.8 222.6 367 225.7 370M160 334.9 166.1 331.8 173.8 333.3 179.9 330.3 187.5 331.8 195.1 330.3 201.3 327.2M160 342.5 164.6 339.4 170.7 341 176.8 336.4 182.9 337.9 190.6 334.9 198.2 336.4 204.3 333.3M163.1 347.1 169.2 347.9 175.3 348.6 179.9 344 186 344.8 192.1 342.5 198.2 343.3 205.8 341 208.9 339.4M172.2 353.2 175.3 359.3 179.9 367 182.9 365.4 189 360.8 198.2 359.3 205.8 357 211.9 357.8 218.1 360.8M175.3 359.3 181.4 354.7 187.5 351.7 195.1 350.1 202.8 347.1 208.9 348.6 213.5 345.6M160 345.6 163.1 347.1 166.1 351.7 172.2 353.2M166.1 351.7 164.6 359.3 160 363.9M179.9 367 178.3 370M237.2 347.9 239.4 345.6 242.5 341 245.6 336.4 243.3 333.3 244.8 327.2M242.5 351.7 248.6 351.7 247.9 357.8 250.1 363.9 251.7 370M128.3 391.4 136.7 388.3 144.3 389.9 150.4 394.4 156.5 400.6 162.6 405.1 168.8 409.7 173.3 415.8 176.4 423.5 177.9 431.1 182.5 437.2 188.6 441.8 191.7 449.4 197.8 455.6 207 461.7M171.8 475.4 167.2 471.6 168 467.8 165.7 461.7 163.4 456.3 160.4 451 155.8 445.6 151.2 441 146.6 435.7 142 431.1 137.4 426.5 134.4 421.9 132.1 415.8 132.8 409.7 129.8 402.8 130.6 396.7 128.3 391.4M154.2 380.8 161.4 389.9 172.3 404.4 174.1 411.6 179.4 406.1 190.3 404.4 201.1 400.7 208.3 397M173.3 467.8 181 463.2 187.1 464.7 194.7 467.8 203.9 470.8M171.8 475.4 173.3 467.8M119.9 380.7 126 379.2 132.1 382.2 138.2 380.7 142.8 385.3 145.8 389.9 151.9 392.9M122.9 370 126 374.6 132.1 377.6 136.7 376.1 141.3 379.2 145.8 377.6 150.4 382.2 151.9 386.8M151.9 386.8 153.5 392.9 156.5 399 161.1 403.6 167.2 406.7 171.8 405.1M130.6 396.7 135.1 399 139.7 397.5 144.3 400.6 147.4 405.1 150.4 408.2 155 411.3 161.1 414.3 167.2 418.9 171.8 423.5 174.9 429.6 176.4 435.7 179.4 441.8 182.5 447.9 185.6 452.5 190.1 455.6M132.8 409.7 138.2 412.8 142.8 415.8 144.3 421.9 147.4 428.1 151.9 434.2 156.5 438.8 161.1 443.3 165.7 449.4 170.3 454 174.9 460.1 179.4 463.2 181 463.2M161.1 382.2 164.2 388.3 167.2 394.4 171.8 400.6 173.3 408.2 174.9 415.8 179.4 420.4 185.6 420.4 191.7 417.4 199.3 414.3 207 412.8 210 409.7M171.8 389.9 176.4 386.8 185.6 388.3 194.7 389.9 203.9 391.4 210 392.9M173.3 408.2 179.4 405.1 185.6 400.6 191.7 397.5 197.8 394.4 203.9 391.4M179.4 420.4 182.5 428.1 187.1 434.2 191.7 441.8 194.7 449.4 199.3 455.6 205.4 460.1 210 463.2M190.1 455.6 191.7 461.7 194.7 467.8M173.3 467.8 181 463.2 187.1 464.7 194.7 467.8 203.9 470.8 210 473.9M167.2 471.6 173.3 467.8M205.4 370 203.9 377.6 207 385.3 210 386.8M185.6 452.5 191.7 449.4 197.8 455.6M128.3 391.4 136.7 388.3 144.3 389.9 150.4 394.4 156.5 400.6 162.6 405.1 168.8 409.7 173.3 415.8M253.5 376.1 255.8 383.8 258.9 391.4 261.9 399 266.5 405.1 268.8 412.8 268.1 421.9 263.5 425 257.4 427.3 258.1 435.7 255.8 446.4 254.3 452.5 260.4 454.8 269.6 455.6 274.2 458.6 280.3 455.6 286.4 451 292.5 455.6 298.6 460.1 304.7 461.7 310.8 460.1 317 457.1M236 379.2 240.6 386.8 246.7 389.9 245.9 397.5 246.7 403.6 240.6 406.7 232.9 403.6 225.3 400.6 219.2 399 213.1 397.5M216.1 458.6 225.3 454 232.9 449.4 240.6 446.4 248.2 449.4 254.3 452.5 260.4 454.8 269.6 455.6 271.1 461.7 272.6 469.3M232.9 370 236 379.2 240.6 386.8 246.7 389.9 245.9 397.5 246.7 403.6 240.6 406.7 232.9 403.6 225.3 400.6 219.2 399 213.1 397.5 210 396M210 388.3 216.1 385.3 223.8 383.8 229.9 382.2 236 379.2M246.7 389.9 252.8 389.9 255.8 383.8M252.8 370 253.5 376.1 255.8 383.8 258.9 391.4 261.9 399 266.5 405.1 268.8 412.8 268.1 421.9 263.5 425 257.4 427.3 258.1 435.7 255.8 446.4 254.3 452.5M246.7 403.6 249.7 409.7 247.4 415.8 249 423.5 246.7 431.1 248.2 437.2 245.1 443.3 248.2 449.4 254.3 452.5M249.7 409.7 254.3 415.8 255.8 421.9 257.4 427.3M268.1 370 269.6 377.6 272.6 385.3 274.2 392.9 277.2 400.6 275.7 408.2 268.8 412.8M275.7 408.2 281.8 411.3 287.9 415.8 289.4 421.9 287.9 429.6 289.4 435.7 294 441.8 295.6 449.4 292.5 455.6M268.8 412.8 271.1 420.4 274.2 426.5 277.2 432.6 281.8 435.7 284.9 441.8 286.4 451M277.2 380.7 280.3 388.3 284.9 394.4 289.4 400.6 294 406.7 298.6 412.8 301.7 418.9 303.2 426.5 307.8 432.6 310.8 438.8 317 441.8 320 443.3M210 405.1 216.1 408.2 222.2 412.8 225.3 417.4 229.9 418.9 236 420.4 240.6 418.9 242.1 412.8 240.6 406.7M210 431.1 216.1 429.6 222.2 428.1 228.3 431.1 234.4 432.6 239 435.7 237.5 441.8 232.9 444.9 228.3 449.4 222.2 452.5 216.1 455.6 210 458.6M239 435.7 245.1 443.3M210 443.3 216.1 441.8 222.2 446.4 228.3 449.4M210 461.7 216.1 458.6 225.3 454 232.9 449.4 240.6 446.4 248.2 449.4M254.3 452.5 260.4 454.8 269.6 455.6 274.2 458.6 280.3 455.6 286.4 451 292.5 455.6 298.6 460.1 304.7 461.7 310.8 460.1 317 457.1 320 455.6M269.6 455.6 271.1 461.7 272.6 469.3 271.1 480M298.6 460.1 301.7 466.3 297.1 472.4 292.5 477 286.4 480M219.2 455.6 225.3 464.7 231.4 470.8 237.5 473.9 243.6 467.8 248.2 461.7 249.7 457.1M315 382.2 317.3 391.4 321.1 400.6 325.7 405.9 324.2 412 316.5 420.4 321.1 429.6 326.5 441 331.8 444.9 336.4 449.4 337.9 455.6 333.3 460.1 324.2 456.3 315 459.4M324.2 412 316.5 420.4 321.1 429.6 326.5 441M315 441.8 326.5 441M357 452.5 359.3 444.9 360.8 437.2 360.8 432.6M217.2 483.1 211.1 489.2 212.6 495.3 205 495.3M227.9 501.4 232.5 498.3 237.8 496.8 241.7 494.5 249.3 495.3 255.4 493.8 263.1 494.5 269.2 496.8 273.8 493.8 281.4 495.3 287.5 496.8 293.6 501.4 299.7 506 304.3 510.6 305.8 518.2 302.8 524.3 296.7 525.8 290.6 522.8 284.4 524.3 278.3 525.8 272.2 522.8 266.1 519.7 261.5 521.3 256.9 523.5 255.4 522.8 250.8 522 244.7 519.7 242.4 515.1 238.6 511.3 232.5 510.6 226.4 508.3 220.3 506.7 215.7 502.9 219.5 502.9 223.3 503.7 227.9 501.4M256.9 523.5 261.5 521.3 266.1 519.7 272.2 522.8 278.3 525.8 284.4 524.3 290.6 522.8 296.7 525.8 302.8 524.3 304.3 530.4 302.8 538.1 304.3 544.2 302.8 553.3 298.2 559.4 292.1 564 288.3 568.6 284.4 565.6 280.6 561 279.1 554.9 278.3 548.8 276.8 542.6 274.5 537.3 270.7 533.5 267.6 529.7 263.1 526.6 259.2 525.1 256.9 523.5M244.7 484.6 250.8 489.2 255.4 493.8 263.1 494.5 269.2 496.8 273.8 493.8 270.7 486.1M211.1 489.2 217.2 483.1 224.9 480 235.6 480 244.7 484.6 250.8 489.2 255.4 493.8 249.3 495.3 241.7 494.5 237.8 496.8 232.5 498.3 227.9 501.4 223.3 503.7 219.5 502.9 215.7 499.1 212.6 495.3 211.1 489.2M211.1 489.2 217.2 483.1 224.9 480M211.1 489.2 212.6 495.3 215.7 499.1 219.5 502.9 223.3 503.7 227.9 501.4 232.5 498.3 237.8 496.8 241.7 494.5 249.3 495.3 255.4 493.8 250.8 489.2 244.7 484.6 235.6 480M255.4 493.8 263.1 494.5 269.2 496.8 273.8 493.8 270.7 486.1 269.2 480M249.3 495.3 247.8 502.9 250.8 507.5 256.9 506 263.1 502.9 266.1 496.8M250.8 507.5 252.4 513.6 250.8 519.7M256.9 506 258.5 513.6 255.4 519.7 256.9 523.5M266.1 519.7 269.2 513.6 267.6 507.5 270.7 502.9 269.2 496.8M273.8 493.8 281.4 495.3 287.5 496.8 293.6 501.4 299.7 506 304.3 510.6 305.8 518.2 302.8 524.3M281.4 495.3 282.9 502.9 281.4 510.6 284.4 516.7 290.6 522.8M256.9 523.5 261.5 521.3 266.1 519.7 272.2 522.8 278.3 525.8 284.4 524.3 290.6 522.8 296.7 525.8 302.8 524.3 312 527.4 315 528.9M278.3 525.8 276.8 531.9 278.3 536.5 274.5 537.3M284.4 524.3 287.5 531.9 293.6 536.5 299.7 538.1 302.8 538.1M302.8 524.3 304.3 530.4 302.8 538.1 304.3 544.2 302.8 553.3 298.2 559.4 292.1 564 288.3 568.6M279.1 554.9 284.4 551.8 290.6 547.2 296.7 544.2 304.3 544.2M287.5 480 289 487.6 293.6 493.8 299.7 495.3 308.9 492.2 315 493.8M293.6 501.4 299.7 495.3M304.3 510.6 310.4 507.5 315 509M302.8 553.3 308.9 551.8 315 548.8M292.1 564 296.7 568.6 302.8 571.7 308.9 570.1 315 571.7M260 518.2 263.1 526.6M315 530.4 321.1 525.8 324.2 519.7 328.8 521.3 334.9 525.8 341 528.9 345.6 531.9 348.6 538.1 354.7 542.6 360.8 547.2 363.9 553.3 363.1 559.4 360.8 565.6 362.4 570.1 357.8 571.7 356.3 577.8 355.5 583.9M344.8 583.9 342.5 577.8 341.7 574 336.4 570.1 330.3 567.1 324.2 565.6 321.1 568.6 321.1 562.5 324.2 556.4 327.2 550.3 321.1 544.2 318.1 538.1 315 535 315 530.4M315 512.1 319.6 515.1 322.6 519.7 321.1 525.8 315 530.4M315 530.4 321.1 525.8 324.2 519.7 328.8 521.3 334.9 525.8 341 528.9 345.6 531.9 348.6 538.1 354.7 542.6 360.8 547.2 363.9 553.3M315 512.1 319.6 515.1 322.6 519.7 321.1 525.8M345.6 531.9 351.7 533.5 357.8 530.4 360.8 524.3 359.3 518.2 363.9 513.6 366.9 509 365.4 502.9 360.8 498.3 360.1 492.2 360.8 486.1 362.4 480M360.8 498.3 366.9 499.1 373.1 498.3 379.2 496.8 383.8 498.3 386.8 502.9 388.3 506M373.8 480 376.1 484.6 380.7 487.6 384.5 490.7 383.8 498.3M384.5 490.7 389.9 487.6 392.9 483.1M363.9 553.3 368.5 552.6M341.7 574 347.1 571.7 353.2 570.1 357.8 571.7M315 535 318.1 538.1 321.1 544.2 327.2 550.3 324.2 556.4 321.1 562.5 321.1 568.6M315 545.7 321.1 544.2M315 480 321.1 483.1 327.2 481.5 330.3 480M236.1 348.3 239.4 342.8 245 338.9 244.4 335.6 248.3 332.8 243.3 329.4 245.6 325 249.4 323.9 253.9 326.1 258.3 329.4 263.9 329.1 267.8 332.2 269.4 336.7 269.2 342.8 267.2 345.6 264.4 346.7 262.8 352.2 261.7 355.6 265 358.9 263.3 361.7 261.7 363.9 266.1 366.7 271.7 371.1 272.8 375.6 277.2 377.8 280.6 379.4M252.2 376.7 251.7 371.1 248.9 365.6 247.8 358.9 248.3 353.3 242.8 351.1 236.1 348.3M225 365.6 228.3 367.8 231.7 371.1 233.3 375.6M236.1 348.3 242.8 351.1 248.3 353.3 247.8 358.9 248.9 365.6 251.7 371.1 252.2 376.7 252.8 380M242.8 351.1 241.7 355.6 240.6 360 238.3 362.2 233.9 360 229.4 358.9 225 360.6M225 343.3 229.4 341.1 232.8 338.9 236.1 338.3M225 365.6 228.3 367.8 231.7 371.1 233.3 375.6 233.9 380M251.7 371.1 257.2 373.3 262.8 375.6 269.4 376.7 272.8 375.6M269.4 376.7 267.2 380M170.8 473.9 177.8 468.3 181.9 464.2 190.3 466.2 195.8 468.3 205.6 472.5 215.3 476 220.8 480.8 215.3 486.4 211.1 488.5 211.1 496.8 204.2 495.4 195.8 494.7 187.5 494 180.6 492.6 175 489.9 170.8 486.4 172.9 479.4 170.8 473.9M170.8 473.9 177.8 468.3 181.9 464.2 190.3 466.2 195.8 468.3 205.6 472.5 215.3 476 220.8 480.8M177.8 468.3 184.7 472.5 191.7 475.3 198.6 479.4 205.6 482.9 211.1 488.5M172.9 479.4 180.6 480.8 186.1 482.9 191.7 480.8M175 489.9 181.9 487.8 190.3 488.5 198.6 487.8 205.6 482.9M343.3 462.5 347.5 455 351.7 450 355.8 449.2 360 454.2 362.5 463.3 363.3 475 362.5 480 356.7 473.3 351.7 468.3 346.7 465 343.3 462.5M316.7 457.5 323.3 454.2 328.3 453.3 333.3 456.7 338.3 460.8 343.3 462.5M343.3 462.5 340 471.7 336.7 476.7 330 480 323.3 481.7 316.7 483.3 310 485 303.3 483.3 296.7 485 290 485.8M360 440 361.7 450 365 458.3 366.7 466.7 365 475 363.3 475M372.5 480.8 368.3 473.3 366.7 466.7M334.2 443.3 337.5 450 339.2 456.7 338.3 460.8M311.7 440 316.7 443.3 323.3 441.7 330 442.5 334.2 443.3" fill="none" stroke="#1a1010" stroke-width="1.1" stroke-linejoin="round" stroke-linecap="round"/>
</g>
<path d="M49.2 165.3 52.2 163.8 58.3 165.3 59.9 161.5 62.9 158.4 66.7 157.6 70.6 156.1 72.8 157.6 74.4 162.2 77.4 164.5 81.3 166 85.8 167.6 90.4 168.3 92.7 170.6 98.1 172.9 102.6 176 104.2 179 107.2 179 109.5 176 111.8 172.9 116.4 169.9 119.4 168.3 121.7 170.6 123.3 172.9 125.6 174.4 127.1 169.9 128.6 165.3 130.9 163.8 134 163 136.3 164.5 137.8 169.9 142.9 164.5 149 165.3 154.4 167.6 156.7 166 160.5 171.4 167.4 172.9 168.9 168.3 172.7 167.6 180.4 164.5 183.4 166 185.7 169.9 187.2 159.2 188.4 153.1 188.4 146.9 206.3 146.9 206.3 153.1 204.8 160.7 203.3 166.8 204.8 174.4 202.5 180.6 203.3 185.9 207.1 189.7 210.1 195.8 211.7 200.4 217 198.1 219.3 202.7 217 211.1 217.8 217.2 215.5 221.8 217.8 227.9 218.9 229.4 217.2 233.9 214.4 236.1 216.7 239.4 218.3 242.8 217.8 247.2 215.6 252.8 213.9 256.1 211.7 259.4 210 255 208.3 251.7 206.1 253.9 203.3 257.2 201.1 259.4 201.7 263.9 200 269.4 201.1 273.9 200.6 279.4 203.3 280.6 207.8 281.1 213.3 282.8 217.8 285 214.4 289.4 211.1 291.7 207.2 296.1 204.4 299.4 203.3 302.8 205.8 304.3 210.4 307.4 215.8 306.6 218.8 308.9 222.6 313.5 227.2 316.5 230.3 321.1 231 327.2 233.3 333.3 236.4 337.9 238.7 344 238.2 345.6 236.1 338.3 237 339.1 236.4 344.4 237.4 345 239.4 342.8 245 338.9 244.4 335.6 248.3 332.8 243.3 329.4 245.6 325 249.4 323.9 253.9 326.1 258.3 329.4 263.9 329.1 267.8 332.2 269.4 336.7 269.2 342.8 267.2 345.6 264.4 346.7 262.8 352.2 261.7 355.6 265 358.9 263.3 361.7 261.7 363.9 266.1 366.7 271.7 371.1 272.8 375.6 277.2 377.8 280.6 379.4 283.3 383 286.7 384.7 288.3 392.2 290.8 394.7 296.7 393 300 381.3 303.3 379.7 311.7 380.5 315.8 383 316.7 393 320 399.7 325 405.5 324.2 413.8 330 417.2 335 421.3 339.2 428 341.7 433.8 348.3 436.3 353.3 434.7 356.7 431.3 362.5 433 366.7 431.3 369.2 441.3 371.7 449.7 375 458 381.7 453.8 385 461.3 390 468 391.7 476.3 395.8 484.7 398.3 493 400 494.7 405 498.8 410 503 418.3 503.8 416.7 508.8 405 509.7 395 508 385 507.2 378.3 511.3 375 521.3 377.5 531.3 379.2 541.3 382.5 547.2 377.5 554.7 373.3 558.8 368.3 558.8 361.7 561.3 362.5 568 358.3 573 355.8 579.7 356.7 586.3 360.8 593 361.7 599.7 356.7 598.8 350 599.7 350 594.7 346.7 586.3 344.2 579.7 341.7 573.8 335 568 330 563.8 325 563 320.8 566.3 321.7 571.3 324.2 576.3 325 581.3 318.3 580.5 310 579.7 301.7 576.3 293.3 571.3 288.3 568 284.2 564.7 281.7 558 280.6 554.4 279.2 546.1 276.4 540.6 272.2 535.7 266.7 530.8 261.1 528.1 257.6 525.3 252.8 523.9 247.2 522.5 243.1 518.3 240.3 513.5 234.7 512.1 227.8 510.7 220.8 507.2 215.3 501.7 211.1 496.8 204.2 495.4 195.8 494.7 187.5 494 180.6 492.6 175 489.9 170.8 486.4 172.9 479.4 170.8 473.9 168.8 469 165.3 464.2 163.2 460 161.7 453 158.3 446.3 153.3 441.3 148.3 436.3 143.3 431.3 138.3 426.3 133.3 421.3 132.5 413.8 129.2 406.3 130 399.7 126.7 394.7 120.8 388 115 383 113.3 378 114.2 378 111.7 371.3 111.7 365.5 108.3 359.7 103.3 356.3 96.7 353 91.7 349.7 95 346.3 96.7 342.2 93.3 338 89.2 333 85.8 327.2 80 321.3 74.2 316.3 70.8 310.5 72 301.3 70.8 294.7 72 288 70.8 281.3 67.5 275.5 65 269.7 57.5 263 56.8 260 53.8 255.4 49.2 250.8 48.4 246.3 52.2 241.7 54.5 235.6 56 231 58.3 226.4 59.9 220.3 57.6 214.2 58.3 209.6 61.4 205 62.9 198.9 60.6 197.4 57.6 195.8 54.5 192.8 50.7 189 53.8 185.9 52.2 180.6 49.9 174.4 48.9 169.9Z" fill="none" stroke="#140c0c" stroke-width="1.05" stroke-linejoin="round"/>
</g>
<g font-size="12" fill="#111" stroke="#fff" stroke-width="2.4" paint-order="stroke" stroke-linejoin="round">
<text x="283.7" y="325.2" stroke-width="0">Nevada</text>
<text x="224.2" y="561.7" textLength="56.7" lengthAdjust="spacingAndGlyphs">San Diego</text>
<text x="247.5" y="583.8" textLength="40" lengthAdjust="spacingAndGlyphs">Tijuana</text>
</g>
<g font-size="8.3" fill="#111" stroke="#fff" stroke-width="2" paint-order="stroke" stroke-linejoin="round">
<text x="305.8" y="594.2">Ensenada</text>
<text x="365.8" y="577.7">San Luis Río C</text>
<text x="58.7" y="369.6" textLength="52" lengthAdjust="spacingAndGlyphs">San Francisco</text>
<text x="354" y="426.3">Las Vegas</text>
<text x="253.7" y="534.7">Long B</text>
</g>
<g fill="#701622" fill-opacity="0.95">
<text x="196.7" y="429.7" font-size="12.4" textLength="52.7" lengthAdjust="spacingAndGlyphs">California</text>
<text x="240.9" y="502.2" font-size="12.4" textLength="69.5" lengthAdjust="spacingAndGlyphs">Los Angeles</text>
<g font-size="8.2">
<text x="148.7" y="328.8" textLength="43.8" lengthAdjust="spacingAndGlyphs">Sacramento</text>
<text x="202.8" y="288.3">Reno</text>
<text x="203.5" y="402.4">Fresno</text>
<text x="228.3" y="458.3" textLength="40.5" lengthAdjust="spacingAndGlyphs">Bakersfield</text>
<text x="282.2" y="519.7">Riverside</text>
<text x="308.1" y="563.7">Mexicali</text>
<text x="344.8" y="563.7">Puebla</text>
<text x="125" y="359.5">Oakland</text>
<text x="130" y="380.5">San Jose</text>
</g>
<text x="92" y="352.5" font-size="11.5" textLength="62" lengthAdjust="spacingAndGlyphs">San Francisco</text>
<circle cx="200.8" cy="402.1" r="1.1"/><circle cx="225.3" cy="457.1" r="1.1"/><circle cx="344" cy="566.3" r="1.2"/><circle cx="340" cy="561.5" r="0.8"/>
</g>
<circle cx="302.8" cy="593" r="1.4" fill="#111"/><circle cx="362" cy="570" r="1.2" fill="#111"/>
<g fill="#7d7d7d" stroke="#111" stroke-width="0.75"><circle cx="82" cy="208.8" r="2.75"/><circle cx="100.1" cy="301.6" r="2.75"/><circle cx="97.4" cy="305.5" r="2.75"/><circle cx="102.4" cy="312.7" r="2.75"/><circle cx="112.6" cy="318.8" r="2.75"/><circle cx="175.2" cy="386" r="2.75"/><circle cx="179" cy="423" r="2.75"/><circle cx="305.8" cy="238" r="2.75"/></g>
<g fill="#6cb1f2" stroke="#111" stroke-width="0.75"><circle cx="124.6" cy="250.8" r="2.75"/><circle cx="106.5" cy="153.8" r="2.75"/><circle cx="58.6" cy="193.2" r="2.75"/><circle cx="84.3" cy="189.4" r="2.75"/><circle cx="110" cy="189.7" r="2.75"/><circle cx="57.3" cy="235.3" r="2.75"/><circle cx="83.2" cy="234.3" r="2.75"/><circle cx="80.9" cy="240.1" r="2.75"/><circle cx="95.3" cy="237.1" r="2.75"/><circle cx="55.3" cy="254.2" r="2.75"/><circle cx="121" cy="251.1" r="2.75"/><circle cx="125.3" cy="250.5" r="2.75"/><circle cx="65.3" cy="262.3" r="2.75"/><circle cx="73.7" cy="273.4" r="2.75"/><circle cx="86.7" cy="280.3" r="2.75"/><circle cx="112.6" cy="272.7" r="2.75"/><circle cx="72.9" cy="291.8" r="2.75"/><circle cx="90.9" cy="301.6" r="2.75"/><circle cx="109.3" cy="302.5" r="2.75"/><circle cx="73.7" cy="312.7" r="2.75"/><circle cx="77.5" cy="313.8" r="2.75"/><circle cx="83.3" cy="321.6" r="2.75"/><circle cx="95.1" cy="314.5" r="2.75"/><circle cx="96.6" cy="320.8" r="2.75"/><circle cx="118.4" cy="311.5" r="2.75"/><circle cx="143.5" cy="275.3" r="2.75"/><circle cx="153.1" cy="279.9" r="2.75"/><circle cx="154.7" cy="266.9" r="2.75"/><circle cx="152.4" cy="300.5" r="2.75"/><circle cx="157.7" cy="297.4" r="2.75"/><circle cx="147.8" cy="308.9" r="2.75"/><circle cx="132" cy="349.1" r="2.75"/><circle cx="135.9" cy="350.1" r="2.75"/><circle cx="145.5" cy="348.6" r="2.75"/><circle cx="163.1" cy="266.9" r="2.75"/><circle cx="163.4" cy="287.5" r="2.75"/><circle cx="162.3" cy="292.1" r="2.75"/><circle cx="169.5" cy="309.4" r="2.75"/><circle cx="161.2" cy="312.4" r="2.75"/><circle cx="167.6" cy="318.8" r="2.75"/><circle cx="182.9" cy="319.3" r="2.75"/><circle cx="163.4" cy="364.7" r="2.75"/><circle cx="179.1" cy="368.8" r="2.75"/><circle cx="154.2" cy="372.3" r="2.75"/><circle cx="157.3" cy="379.2" r="2.75"/><circle cx="166.5" cy="380.4" r="2.75"/><circle cx="178.7" cy="370" r="2.75"/><circle cx="154.7" cy="407.4" r="2.75"/><circle cx="144.3" cy="410" r="2.75"/><circle cx="151.2" cy="415.1" r="2.75"/><circle cx="169.5" cy="405.4" r="2.75"/><circle cx="181.7" cy="398.7" r="2.75"/><circle cx="188.6" cy="399.3" r="2.75"/><circle cx="187.9" cy="405.4" r="2.75"/><circle cx="187.4" cy="425.3" r="2.75"/><circle cx="179.4" cy="428.1" r="2.75"/><circle cx="173.3" cy="442.6" r="2.75"/><circle cx="186.6" cy="470.5" r="2.75"/><circle cx="188.6" cy="477" r="2.75"/><circle cx="212.8" cy="398.7" r="2.75"/><circle cx="224.8" cy="414" r="2.75"/><circle cx="369.5" cy="370" r="2.75"/><circle cx="354" cy="425" r="2.75"/><circle cx="357" cy="428.1" r="2.75"/><circle cx="407.9" cy="441" r="2.75"/><circle cx="275.3" cy="499.9" r="2.75"/><circle cx="282.9" cy="497.6" r="2.75"/><circle cx="276" cy="511.8" r="2.75"/><circle cx="272.2" cy="514.8" r="2.75"/><circle cx="286" cy="531.2" r="2.75"/><circle cx="292.9" cy="531.9" r="2.75"/><circle cx="305.1" cy="520.5" r="2.75"/><circle cx="309.7" cy="520.5" r="2.75"/><circle cx="314.2" cy="521.3" r="2.75"/><circle cx="310.1" cy="525.5" r="2.75"/><circle cx="316.2" cy="520.9" r="2.75"/><circle cx="405.9" cy="489.6" r="2.75"/><circle cx="186.8" cy="470.4" r="2.75"/><circle cx="188.9" cy="477.8" r="2.75"/><circle cx="197.9" cy="489.2" r="2.75"/><circle cx="181.2" cy="488.5" r="2.75"/><circle cx="303.7" cy="233" r="2.75"/><circle cx="309.2" cy="271.8" r="2.75"/><circle cx="307.8" cy="278" r="2.75"/><circle cx="287.2" cy="301.3" r="2.75"/><circle cx="380.8" cy="308.8" r="2.75"/></g>
<g fill="#00ee00" stroke="#111" stroke-width="0.75"><circle cx="133.4" cy="157.9" r="2.75"/><circle cx="153.9" cy="162.7" r="2.75"/><circle cx="163.9" cy="208.1" r="2.75"/><circle cx="172.4" cy="250.1" r="2.75"/><circle cx="122.3" cy="246.6" r="2.75"/><circle cx="123.4" cy="255.4" r="2.75"/><circle cx="62.6" cy="156.9" r="2.75"/><circle cx="75.4" cy="172.2" r="2.75"/><circle cx="58.8" cy="176.7" r="2.75"/><circle cx="83.5" cy="166.8" r="2.75"/><circle cx="86.6" cy="163.4" r="2.75"/><circle cx="92.4" cy="171.8" r="2.75"/><circle cx="97.3" cy="163.4" r="2.75"/><circle cx="101.9" cy="159.2" r="2.75"/><circle cx="101.6" cy="168.3" r="2.75"/><circle cx="133.5" cy="157.6" r="2.75"/><circle cx="60.3" cy="187.4" r="2.75"/><circle cx="62.6" cy="191.3" r="2.75"/><circle cx="89.4" cy="188.2" r="2.75"/><circle cx="96.5" cy="197.4" r="2.75"/><circle cx="65.2" cy="203.2" r="2.75"/><circle cx="63.2" cy="212.3" r="2.75"/><circle cx="79.7" cy="212.3" r="2.75"/><circle cx="75.4" cy="223" r="2.75"/><circle cx="62.6" cy="229.4" r="2.75"/><circle cx="58" cy="241.7" r="2.75"/><circle cx="61.4" cy="247" r="2.75"/><circle cx="68" cy="247" r="2.75"/><circle cx="122" cy="246.6" r="2.75"/><circle cx="123.3" cy="255.4" r="2.75"/><circle cx="72.1" cy="259.2" r="2.75"/><circle cx="76.7" cy="258.5" r="2.75"/><circle cx="71.4" cy="260.8" r="2.75"/><circle cx="122.6" cy="261.5" r="2.75"/><circle cx="125.6" cy="266.4" r="2.75"/><circle cx="126.4" cy="271.9" r="2.75"/><circle cx="129.1" cy="278.3" r="2.75"/><circle cx="129.1" cy="283.7" r="2.75"/><circle cx="129" cy="290.3" r="2.75"/><circle cx="128.7" cy="295.9" r="2.75"/><circle cx="129" cy="300.9" r="2.75"/><circle cx="75.2" cy="302.5" r="2.75"/><circle cx="93.2" cy="308.9" r="2.75"/><circle cx="100.1" cy="308.1" r="2.75"/><circle cx="140.5" cy="294.8" r="2.75"/><circle cx="134.8" cy="309.4" r="2.75"/><circle cx="141.7" cy="304.3" r="2.75"/><circle cx="145.5" cy="302" r="2.75"/><circle cx="142" cy="313.8" r="2.75"/><circle cx="121.4" cy="314.5" r="2.75"/><circle cx="135.6" cy="321.1" r="2.75"/><circle cx="142" cy="318.8" r="2.75"/><circle cx="102.4" cy="326" r="2.75"/><circle cx="99.2" cy="330.3" r="2.75"/><circle cx="96.1" cy="330.3" r="2.75"/><circle cx="114.2" cy="330.3" r="2.75"/><circle cx="119.1" cy="335.6" r="2.75"/><circle cx="147.8" cy="327.2" r="2.75"/><circle cx="142.7" cy="331.4" r="2.75"/><circle cx="150.5" cy="336.4" r="2.75"/><circle cx="147.8" cy="341" r="2.75"/><circle cx="139.1" cy="344.3" r="2.75"/><circle cx="127.2" cy="363.6" r="2.75"/><circle cx="133.7" cy="365.9" r="2.75"/><circle cx="130.5" cy="367.7" r="2.75"/><circle cx="151.6" cy="360.1" r="2.75"/><circle cx="157.7" cy="362.4" r="2.75"/><circle cx="153.6" cy="365.4" r="2.75"/><circle cx="159.2" cy="348.6" r="2.75"/><circle cx="159.2" cy="330.3" r="2.75"/><circle cx="179.6" cy="275.6" r="2.75"/><circle cx="217.3" cy="283.4" r="2.75"/><circle cx="200.5" cy="287.5" r="2.75"/><circle cx="204" cy="288.3" r="2.75"/><circle cx="192.8" cy="291.8" r="2.75"/><circle cx="187.2" cy="297.4" r="2.75"/><circle cx="190.1" cy="302.5" r="2.75"/><circle cx="203.1" cy="305.4" r="2.75"/><circle cx="219.9" cy="313.2" r="2.75"/><circle cx="203.5" cy="316.2" r="2.75"/><circle cx="199.4" cy="319.3" r="2.75"/><circle cx="201.6" cy="321.9" r="2.75"/><circle cx="161.2" cy="330.3" r="2.75"/><circle cx="211.5" cy="335.2" r="2.75"/><circle cx="161.2" cy="348.6" r="2.75"/><circle cx="168.9" cy="359.3" r="2.75"/><circle cx="204.3" cy="362.7" r="2.75"/><circle cx="208.6" cy="361.9" r="2.75"/><circle cx="161.5" cy="366.2" r="2.75"/><circle cx="123.7" cy="374.3" r="2.75"/><circle cx="136.7" cy="371.5" r="2.75"/><circle cx="158.8" cy="371.5" r="2.75"/><circle cx="133.3" cy="380.4" r="2.75"/><circle cx="140.5" cy="384.8" r="2.75"/><circle cx="127.2" cy="389.9" r="2.75"/><circle cx="142" cy="395.2" r="2.75"/><circle cx="148.9" cy="392.6" r="2.75"/><circle cx="147.7" cy="397.8" r="2.75"/><circle cx="151.9" cy="401.3" r="2.75"/><circle cx="164.2" cy="376.4" r="2.75"/><circle cx="179.4" cy="379.2" r="2.75"/><circle cx="139.7" cy="407" r="2.75"/><circle cx="138.2" cy="412.8" r="2.75"/><circle cx="137.1" cy="421.9" r="2.75"/><circle cx="151.2" cy="420.4" r="2.75"/><circle cx="159.6" cy="421.2" r="2.75"/><circle cx="166" cy="434.5" r="2.75"/><circle cx="158.8" cy="436" r="2.75"/><circle cx="158.1" cy="440.6" r="2.75"/><circle cx="171.8" cy="446.4" r="2.75"/><circle cx="183.7" cy="475.4" r="2.75"/><circle cx="290.2" cy="475" r="2.75"/><circle cx="365.4" cy="403.3" r="2.75"/><circle cx="370.3" cy="406.2" r="2.75"/><circle cx="390.2" cy="396.3" r="2.75"/><circle cx="216.5" cy="496.5" r="2.75"/><circle cx="219.5" cy="500.6" r="2.75"/><circle cx="224.9" cy="503.7" r="2.75"/><circle cx="228.4" cy="493.4" r="2.75"/><circle cx="234.8" cy="494.8" r="2.75"/><circle cx="280.2" cy="488.4" r="2.75"/><circle cx="280.9" cy="508.3" r="2.75"/><circle cx="279.4" cy="537.3" r="2.75"/><circle cx="278.8" cy="541.1" r="2.75"/><circle cx="285.2" cy="558.7" r="2.75"/><circle cx="408.5" cy="499.1" r="2.75"/><circle cx="402.1" cy="517.4" r="2.75"/><circle cx="422" cy="521.6" r="2.75"/><circle cx="402.1" cy="553.6" r="2.75"/><circle cx="373.8" cy="558.7" r="2.75"/><circle cx="183.8" cy="475.7" r="2.75"/><circle cx="180.3" cy="485.7" r="2.75"/><circle cx="252" cy="238.8" r="2.75"/><circle cx="293" cy="239.3" r="2.75"/><circle cx="316.3" cy="242.2" r="2.75"/><circle cx="329.2" cy="238.8" r="2.75"/><circle cx="380.8" cy="350.8" r="2.75"/></g>
<g fill="#f5ea18" stroke="#111" stroke-width="0.75"><circle cx="399" cy="492.5" r="2.75"/></g>
<g fill="#00ee00" stroke="#111" stroke-width="0.75"><circle cx="335" cy="228" r="2.75"/><circle cx="280.3" cy="225.5" r="2.75"/><circle cx="346.7" cy="214.2" r="2.75"/><circle cx="278" cy="203" r="2.75"/></g>
<rect x="20.3" y="157.3" width="24.9" height="47.5" rx="4" fill="#000" fill-opacity="0.2"/>
<rect x="21.8" y="158.8" width="21.9" height="44.5" rx="2.5" fill="#fff"/>
<path d="M21.8 181.1H43.7" stroke="#ccc" stroke-width="0.8"/>
<path d="M29.2 170.2h8.2M33.3 166.1v8.2M29.8 191.9h7" stroke="#000" stroke-width="1.4" fill="none"/>
<rect x="20.3" y="210.8" width="35.4" height="36.2" rx="4" fill="#000" fill-opacity="0.2"/>
<rect x="21.8" y="212.3" width="32.4" height="33.2" rx="2.5" fill="#fff"/>
<g stroke="none"><path d="M38 227.6l9.2 4.4-9.2 4.6-9.2-4.6z" fill="#9a9a9a"/><path d="M38 223.8l9.2 4.4-9.2 4.6-9.2-4.6z" fill="#b4b4b4"/><path d="M38 219.8l9.2 4.5-9.2 4.6-9.2-4.6z" fill="#d2d2d2"/></g>
<rect x="19.3" y="392.3" width="75.2" height="214" rx="4.5" fill="#000" fill-opacity="0.06"/>
<rect x="20.8" y="393.3" width="72.2" height="211.4" rx="3.5" fill="#f8f8f8" fill-opacity="0.93"/>
<text x="28.7" y="406.3" font-size="7.4" font-weight="bold" fill="#333" textLength="40.5" lengthAdjust="spacingAndGlyphs">Precip (mm)</text>
<rect x="28" y="410.2" width="13.2" height="12.3" fill="#ffffff"/>
<text x="47" y="416.8" font-size="7" fill="#333">0–1</text>
<rect x="28" y="426.8" width="13.2" height="12.3" fill="#fde19a"/>
<text x="47" y="433.4" font-size="7" fill="#333">1–2</text>
<rect x="28" y="443.3" width="13.2" height="12.3" fill="#fbc67f"/>
<text x="47" y="449.9" font-size="7" fill="#333">2–5</text>
<rect x="28" y="459.9" width="13.2" height="12.3" fill="#fbab74"/>
<text x="47" y="466.5" font-size="7" fill="#333">5–10</text>
<rect x="28" y="476.4" width="13.2" height="12.3" fill="#f98067"/>
<text x="47" y="483.0" font-size="7" fill="#333">10–25</text>
<rect x="28" y="493.0" width="13.2" height="12.3" fill="#e6575d"/>
<text x="47" y="499.6" font-size="7" fill="#333">25–50</text>
<rect x="28" y="509.6" width="13.2" height="12.3" fill="#cd4665"/>
<text x="47" y="516.2" font-size="7" fill="#333">50–75</text>
<rect x="28" y="526.1" width="13.2" height="12.3" fill="#a24a63"/>
<text x="47" y="532.7" font-size="7" fill="#333">75–100</text>
<rect x="28" y="542.7" width="13.2" height="12.3" fill="#f68eb9"/>
<text x="47" y="549.3" font-size="7" fill="#333">100–150</text>
<rect x="28" y="559.2" width="13.2" height="12.3" fill="#d25aa9"/>
<text x="47" y="565.8" font-size="7" fill="#333">150–200</text>
<rect x="28" y="575.8" width="13.2" height="12.3" fill="#9b459c"/>
<text x="47" y="582.4" font-size="7" fill="#333">200+</text>
<text x="28.7" y="597.5" font-size="7" fill="#3b7ea6" textLength="46.6" lengthAdjust="spacingAndGlyphs">Gauge Legend</text>
<rect x="224.3" y="156.8" width="192" height="73" rx="6" fill="#000" fill-opacity="0.05"/>
<rect x="225.8" y="158" width="189" height="70" rx="4.5" fill="#fff" fill-opacity="0.88"/>
<use href="#cw3e" transform="translate(257.5 188.2) scale(0.558) translate(-993.3 -47.7)"/>
<g font-size="8.3" font-weight="bold" fill="#1c6589">
<text x="289.7" y="185.5" textLength="118.6" lengthAdjust="spacingAndGlyphs">Center for Western Weather</text>
<text x="289.7" y="195.2" textLength="86.6" lengthAdjust="spacingAndGlyphs">and Water Extremes</text></g>
<text x="265.8" y="221.8" font-size="10" fill="#333" textLength="109.5" lengthAdjust="spacingAndGlyphs">10-day GFS Precipitation</text>
<rect x="226.7" y="601.3" width="196" height="11" fill="#fff" fill-opacity="0.75"/>
<text x="230.3" y="609.2" font-size="7.3" fill="#444" textLength="187.7" lengthAdjust="spacingAndGlyphs"><tspan fill="#3a7ca8">Leaflet</tspan> | J. Cordeira; Map data: <tspan fill="#3a7ca8">Stamen Design</tspan>, AHPS</text>
</g>
</svg>
<svg id="chart" width="1280" height="720" viewBox="0 0 1280 720">
<rect x="830.8" y="169.6" width="376.3" height="376.5" fill="#fff"/>
<path d="M832.40 170.6V546.1M869.64 170.6V546.1M906.88 170.6V546.1M944.12 170.6V546.1M981.36 170.6V546.1M1018.60 170.6V546.1M1055.84 170.6V546.1M1093.08 170.6V546.1M1130.32 170.6V546.1M1167.56 170.6V546.1M1204.80 170.6V546.1M830.8 477.65H1207.1M830.8 409.19H1207.1M830.8 340.74H1207.1M830.8 272.28H1207.1M830.8 203.83H1207.1" stroke="#6a6a6a" stroke-width="0.8" stroke-dasharray="2 3.7" fill="none"/>
<g fill="#d4d4d4" stroke="#222" stroke-width="0.75">
<rect x="834.73" y="543.70" width="4.65" height="2.40"/>
<rect x="909.21" y="531.72" width="4.65" height="14.38"/>
<rect x="913.86" y="539.60" width="4.65" height="6.50"/>
<rect x="918.52" y="545.07" width="4.65" height="1.03"/>
<rect x="923.17" y="541.99" width="4.65" height="4.11"/>
<rect x="927.83" y="514.95" width="4.65" height="31.15"/>
<rect x="932.48" y="436.57" width="4.65" height="109.53"/>
<rect x="937.14" y="409.19" width="4.65" height="136.91"/>
<rect x="941.79" y="355.80" width="4.65" height="190.30"/>
<rect x="946.45" y="314.04" width="4.65" height="232.06"/>
<rect x="951.10" y="296.24" width="4.65" height="249.86"/>
<rect x="955.76" y="229.16" width="4.65" height="316.94"/>
<rect x="960.41" y="190.14" width="4.65" height="355.96"/>
<rect x="965.07" y="239.42" width="4.65" height="306.68"/>
<rect x="969.72" y="279.47" width="4.65" height="266.63"/>
<rect x="974.38" y="329.44" width="4.65" height="216.66"/>
<rect x="979.03" y="376.68" width="4.65" height="169.43"/>
<rect x="983.69" y="385.92" width="4.65" height="160.18"/>
<rect x="988.34" y="387.63" width="4.65" height="158.47"/>
<rect x="993.00" y="425.96" width="4.65" height="120.14"/>
<rect x="997.65" y="418.43" width="4.65" height="127.67"/>
<rect x="1002.31" y="442.39" width="4.65" height="103.71"/>
<rect x="1006.96" y="393.10" width="4.65" height="153.00"/>
<rect x="1011.62" y="412.96" width="4.65" height="133.14"/>
<rect x="1016.27" y="454.71" width="4.65" height="91.39"/>
<rect x="1020.93" y="488.26" width="4.65" height="57.84"/>
<rect x="1025.58" y="518.03" width="4.66" height="28.07"/>
<rect x="1030.24" y="534.46" width="4.66" height="11.64"/>
<rect x="1034.89" y="513.58" width="4.66" height="32.52"/>
<rect x="1039.55" y="544.05" width="4.66" height="2.05"/>
<rect x="1044.20" y="541.99" width="4.66" height="4.11"/>
<rect x="1048.86" y="520.09" width="4.66" height="26.01"/>
<rect x="1053.51" y="445.13" width="4.66" height="100.97"/>
<rect x="1058.17" y="408.16" width="4.66" height="137.94"/>
<rect x="1062.82" y="461.90" width="4.66" height="84.20"/>
<rect x="1067.48" y="501.60" width="4.66" height="44.50"/>
<rect x="1072.13" y="544.39" width="4.66" height="1.71"/>
<rect x="1086.10" y="543.70" width="4.66" height="2.40"/>
<rect x="1090.75" y="543.70" width="4.66" height="2.40"/>
<rect x="1095.41" y="545.42" width="4.66" height="0.68"/>
<rect x="1100.06" y="543.36" width="4.66" height="2.74"/>
<rect x="1104.72" y="517.35" width="4.66" height="28.75"/>
<rect x="1109.37" y="517.01" width="4.66" height="29.09"/>
<rect x="1114.03" y="519.06" width="4.66" height="27.04"/>
<rect x="1118.68" y="516.66" width="4.66" height="29.44"/>
<rect x="1123.34" y="522.14" width="4.66" height="23.96"/>
<rect x="1127.99" y="520.43" width="4.66" height="25.67"/>
<rect x="1132.65" y="520.43" width="4.66" height="25.67"/>
<rect x="1137.30" y="533.44" width="4.66" height="12.66"/>
<rect x="1141.96" y="519.06" width="4.66" height="27.04"/>
<rect x="1146.61" y="505.37" width="4.66" height="40.73"/>
<rect x="1151.27" y="511.53" width="4.66" height="34.57"/>
<rect x="1155.92" y="532.41" width="4.66" height="13.69"/>
<rect x="1160.58" y="512.90" width="4.66" height="33.20"/>
<rect x="1165.23" y="507.08" width="4.66" height="39.02"/>
<rect x="1169.89" y="517.69" width="4.66" height="28.41"/>
<rect x="1174.54" y="545.42" width="4.66" height="0.68"/>
<rect x="1179.20" y="545.76" width="4.66" height="0.34"/>
<rect x="1183.85" y="544.73" width="4.66" height="1.37"/>
<rect x="1193.16" y="545.42" width="4.66" height="0.68"/>
<rect x="1197.82" y="534.46" width="4.66" height="11.64"/>
<rect x="1202.47" y="526.59" width="4.33" height="19.51"/>
</g>
<g font-size="8.4" fill="#222" text-anchor="middle">
<text x="852.0" y="183.9">0.1 mm</text><text x="852.0" y="195.5">0.00 in.</text>
<text x="889.3" y="183.9">0.0 mm</text><text x="889.3" y="195.5">0.00 in.</text>
<text x="926.5" y="183.9">14.5 mm</text><text x="926.5" y="195.5">0.57 in.</text>
<text x="963.7" y="183.9">61.8 mm</text><text x="963.7" y="195.5">2.43 in.</text>
<text x="1001.0" y="183.9">30.7 mm</text><text x="1001.0" y="195.5">1.21 in.</text>
<text x="1038.2" y="183.9">7.7 mm</text><text x="1038.2" y="195.5">0.30 in.</text>
<text x="1075.5" y="183.9">8.0 mm</text><text x="1075.5" y="195.5">0.32 in.</text>
<text x="1112.7" y="183.9">4.9 mm</text><text x="1112.7" y="195.5">0.19 in.</text>
<text x="1149.9" y="183.9">6.6 mm</text><text x="1149.9" y="195.5">0.26 in.</text>
<text x="1187.2" y="183.9">1.9 mm</text><text x="1187.2" y="195.5">0.07 in.</text>
</g>
<path d="M832.4 546.1 L837.1 545.9 L841.7 545.9 L846.4 545.9 L851.0 545.9 L855.7 545.9 L860.3 545.9 L865.0 545.9 L869.6 545.9 L874.3 545.9 L878.9 545.9 L883.6 545.9 L888.3 545.9 L892.9 545.9 L897.6 545.9 L902.2 545.9 L906.9 545.9 L911.5 545.0 L916.2 544.5 L920.8 544.5 L925.5 544.2 L930.2 542.1 L934.8 534.7 L939.5 525.5 L944.1 512.7 L948.8 497.0 L953.4 480.2 L958.1 458.8 L962.7 434.9 L967.4 414.2 L972.0 396.2 L976.7 381.6 L981.4 370.2 L986.0 359.4 L990.7 348.8 L995.3 340.7 L1000.0 332.1 L1004.6 325.1 L1009.3 314.8 L1013.9 305.8 L1018.6 299.6 L1023.3 295.7 L1027.9 293.8 L1032.6 293.1 L1037.2 290.9 L1041.9 290.7 L1046.5 290.5 L1051.2 288.7 L1055.8 281.9 L1060.5 272.6 L1065.2 266.9 L1069.8 263.9 L1074.5 263.8 L1079.1 263.8 L1083.8 263.8 L1088.4 263.7 L1093.1 263.5 L1097.7 263.5 L1102.4 263.3 L1107.0 261.3 L1111.7 259.4 L1116.4 257.6 L1121.0 255.6 L1125.7 254.0 L1130.3 252.2 L1135.0 250.5 L1139.6 249.6 L1144.3 247.8 L1148.9 245.1 L1153.6 242.7 L1158.2 241.8 L1162.9 239.6 L1167.6 237.0 L1172.2 235.0 L1176.9 235.0 L1181.5 235.0 L1186.2 234.9 L1190.8 234.9 L1195.5 234.8 L1200.1 234.1 L1204.8 232.7" stroke="#ff0000" stroke-width="1.7" fill="none" stroke-linejoin="round"/>
<path d="M830.8 546.10h-10.3M830.8 528.99h-5.2M830.8 511.87h-5.2M830.8 494.76h-5.2M830.8 477.65h-10.3M830.8 460.53h-5.2M830.8 443.42h-5.2M830.8 426.30h-5.2M830.8 409.19h-10.3M830.8 392.08h-5.2M830.8 374.96h-5.2M830.8 357.85h-5.2M830.8 340.74h-10.3M830.8 323.62h-5.2M830.8 306.51h-5.2M830.8 289.40h-5.2M830.8 272.28h-10.3M830.8 255.17h-5.2M830.8 238.05h-5.2M830.8 220.94h-5.2M830.8 203.83h-10.3M830.8 186.71h-5.2M830.8 169.60h-5.2M1207.1 546.10h10M1207.1 523.04h4.8M1207.1 499.98h4.8M1207.1 476.92h10M1207.1 453.86h4.8M1207.1 430.80h4.8M1207.1 407.74h10M1207.1 384.68h4.8M1207.1 361.62h4.8M1207.1 338.56h10M1207.1 315.50h4.8M1207.1 292.44h4.8M1207.1 269.38h10M1207.1 246.32h4.8M1207.1 223.26h4.8M1207.1 200.20h10M1207.1 177.14h4.8M832.40 546.1v9.6M869.64 546.1v9.6M906.88 546.1v9.6M944.12 546.1v9.6M981.36 546.1v9.6M1018.60 546.1v9.6M1055.84 546.1v9.6M1093.08 546.1v9.6M1130.32 546.1v9.6M1167.56 546.1v9.6M1204.80 546.1v9.6" stroke="#333" stroke-width="1.1" fill="none"/>
<rect x="830.8" y="169.6" width="376.3" height="376.5" fill="none" stroke="#2b2b2b" stroke-width="1.4"/>
<g font-size="12" fill="#000">
<text x="812" y="550.4" text-anchor="end">0</text>
<text x="812" y="481.9" text-anchor="end">2</text>
<text x="812" y="413.5" text-anchor="end">4</text>
<text x="812" y="345.0" text-anchor="end">6</text>
<text x="812" y="276.6" text-anchor="end">8</text>
<text x="812" y="208.1" text-anchor="end">10</text>
<text x="1225.2" y="550.4">0</text>
<text x="1225.2" y="481.2">30</text>
<text x="1225.2" y="412.0">60</text>
<text x="1225.2" y="342.9">90</text>
<text x="1225.2" y="273.7">120</text>
<text x="1225.2" y="204.5">150</text>
<text x="832.4" y="573" text-anchor="middle">3/12</text>
<text x="869.6" y="573" text-anchor="middle">3/13</text>
<text x="906.9" y="573" text-anchor="middle">3/14</text>
<text x="944.1" y="573" text-anchor="middle">3/15</text>
<text x="981.4" y="573" text-anchor="middle">3/16</text>
<text x="1018.6" y="573" text-anchor="middle">3/17</text>
<text x="1055.8" y="573" text-anchor="middle">3/18</text>
<text x="1093.1" y="573" text-anchor="middle">3/19</text>
<text x="1130.3" y="573" text-anchor="middle">3/20</text>
<text x="1167.6" y="573" text-anchor="middle">3/21</text>
<text x="1204.8" y="573" text-anchor="middle">3/22</text>
<text x="1018.3" y="589.9" text-anchor="middle">Forecast Day</text>
<text transform="translate(791.3 358.5) rotate(-90)" text-anchor="middle" textLength="205" lengthAdjust="spacingAndGlyphs">3-h Watershed Avg. Precip [mm; gray]</text>
<text transform="translate(1261.8 357.5) rotate(-90)" text-anchor="middle" textLength="241" lengthAdjust="spacingAndGlyphs">Cumulative Watershed Avg. Precip [mm; red]</text>
</g>
<text x="829.4" y="165.2" font-size="13" fill="#000" textLength="284.2" lengthAdjust="spacingAndGlyphs">Upper Yuba Watershed Precip. 00Z Thu 03/12/20</text>
<rect x="1100" y="577.3" width="107.8" height="32" fill="#fff" stroke="#ff3b3b" stroke-width="1"/>
<g font-size="8.6" fill="#ff1a1a">
<text x="1103.8" y="586.1">Total Precip: 136 mm</text><text x="1103.8" y="595.7">Total Precip: 5.4 in.</text><text x="1103.8" y="605.8">Water Volume: 385 TAF</text>
</g>
<path d="M909.9 590.2 C910.3 604 910 613 911.4 617.5 C912.8 622.3 915 623.4 919.5 623.4 H991.5 C997.6 623.4 999 634 999 669.5 C999 634 1000.4 623.4 1006.5 623.4 H1078.7 C1083.2 623.4 1085.4 622.3 1086.8 617.5 C1088.2 613 1087.9 604 1088.3 590.2" stroke="#000" stroke-width="3" fill="none" stroke-linecap="butt" stroke-linejoin="round"/>
</svg>
</body>
</html>
